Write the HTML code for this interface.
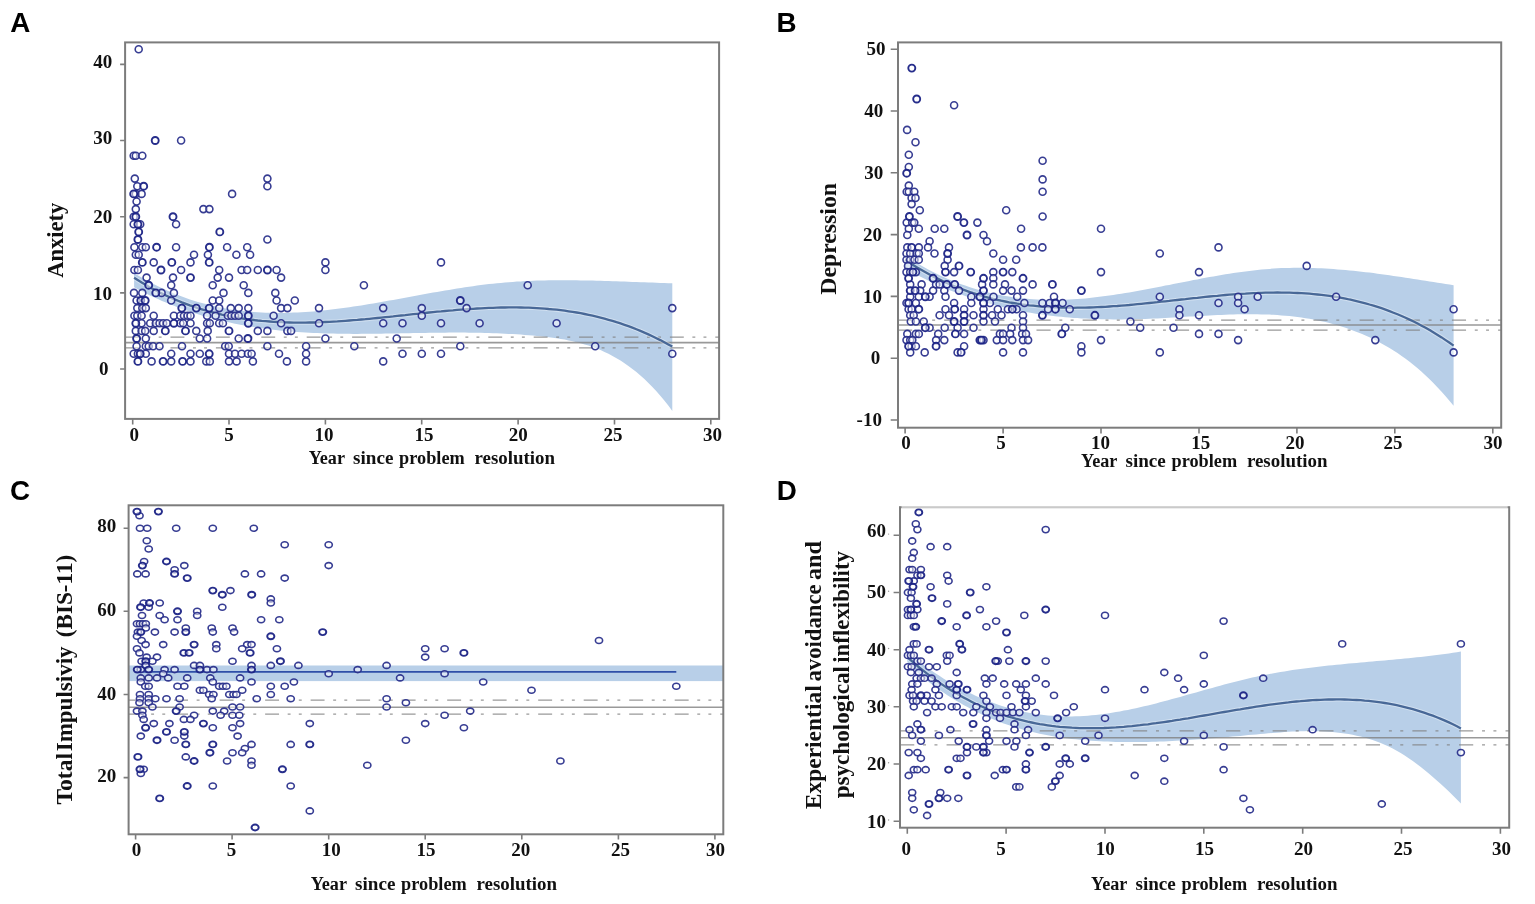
<!DOCTYPE html>
<html lang="en">
<head>
<meta charset="utf-8">
<title>Symptom scores by year since problem resolution</title>
<style>
html,body{margin:0;padding:0;background:#fff;}
body{width:1535px;height:904px;overflow:hidden;}
svg{display:block;}
</style>
</head>
<body>

<svg width="1535" height="904" viewBox="0 0 1535 904" role="img" aria-label="Four scatter plots of symptom scores against years since problem resolution">
<rect width="1535" height="904" fill="#ffffff"/>
<g id="panel-a">
<clipPath id="clipA"><rect x="125.1" y="42.4" width="594" height="376.5"/></clipPath>
<path d="M134.1 273L138.1 275.5L142.1 277.8L146.1 280.1L150 282.3L154 284.3L158 286.3L162 288.3L166 290.1L170 291.8L174 293.5L178 295.1L181.9 296.6L185.9 298L189.9 299.4L193.9 300.7L197.9 301.9L201.9 303L205.9 304.1L209.8 305.1L213.8 306L217.8 306.9L221.8 307.7L225.8 308.5L229.8 309.1L233.8 309.8L237.8 310.3L241.7 310.8L245.7 311.3L249.7 311.6L253.7 312L257.7 312.3L261.7 312.5L265.7 312.7L269.6 312.8L273.6 312.9L277.6 312.9L281.6 312.9L285.6 312.9L289.6 312.8L293.6 312.6L297.6 312.4L301.5 312.2L305.5 312L309.5 311.7L313.5 311.4L317.5 311L321.5 310.6L325.5 310.2L329.4 309.8L333.4 309.3L337.4 308.8L341.4 308.3L345.4 307.8L349.4 307.2L353.4 306.6L357.4 306L361.3 305.4L365.3 304.7L369.3 304.1L373.3 303.4L377.3 302.7L381.3 302L385.3 301.3L389.2 300.6L393.2 299.9L397.2 299.2L401.2 298.4L405.2 297.7L409.2 297L413.2 296.2L417.2 295.5L421.1 294.8L425.1 294.1L429.1 293.3L433.1 292.6L437.1 291.9L441.1 291.2L445.1 290.5L449 289.9L453 289.2L457 288.6L461 287.9L465 287.3L469 286.7L473 286.2L477 285.6L480.9 285.1L484.9 284.6L488.9 284.1L492.9 283.7L496.9 283.3L500.9 282.9L504.9 282.5L508.8 282.2L512.8 281.9L516.8 281.6L520.8 281.4L524.8 281.1L528.8 281L532.8 280.8L536.8 280.6L540.7 280.5L544.7 280.4L548.7 280.3L552.7 280.3L556.7 280.2L560.7 280.2L564.7 280.2L568.6 280.2L572.6 280.3L576.6 280.3L580.6 280.4L584.6 280.4L588.6 280.5L592.6 280.6L596.6 280.7L600.5 280.8L604.5 280.9L608.5 281L612.5 281.2L616.5 281.3L620.5 281.4L624.5 281.6L628.4 281.7L632.4 281.9L636.4 282L640.4 282.2L644.4 282.3L648.4 282.5L652.4 282.6L656.4 282.8L660.3 282.9L664.3 283L668.3 283.2L672.3 283.3L672.3 410.9L668.3 405.6L664.3 400.5L660.3 395.8L656.4 391.3L652.4 387L648.4 382.9L644.4 379.1L640.4 375.5L636.4 372.1L632.4 369L628.4 366L624.5 363.2L620.5 360.6L616.5 358.2L612.5 355.9L608.5 353.8L604.5 351.9L600.5 350.1L596.6 348.5L592.6 347L588.6 345.6L584.6 344.4L580.6 343.2L576.6 342.2L572.6 341.2L568.6 340.4L564.7 339.6L560.7 338.9L556.7 338.3L552.7 337.7L548.7 337.2L544.7 336.8L540.7 336.3L536.8 335.9L532.8 335.6L528.8 335.2L524.8 334.9L520.8 334.6L516.8 334.3L512.8 334.1L508.8 333.9L504.9 333.7L500.9 333.5L496.9 333.3L492.9 333.2L488.9 333L484.9 332.9L480.9 332.8L477 332.8L473 332.7L469 332.7L465 332.6L461 332.6L457 332.6L453 332.6L449 332.6L445.1 332.7L441.1 332.7L437.1 332.7L433.1 332.8L429.1 332.8L425.1 332.9L421.1 333L417.2 333L413.2 333.1L409.2 333.2L405.2 333.3L401.2 333.3L397.2 333.4L393.2 333.5L389.2 333.5L385.3 333.6L381.3 333.7L377.3 333.7L373.3 333.8L369.3 333.8L365.3 333.8L361.3 333.8L357.4 333.9L353.4 333.9L349.4 333.8L345.4 333.8L341.4 333.8L337.4 333.7L333.4 333.6L329.4 333.5L325.5 333.4L321.5 333.3L317.5 333.1L313.5 333L309.5 332.8L305.5 332.5L301.5 332.3L297.6 332L293.6 331.7L289.6 331.4L285.6 331.1L281.6 330.7L277.6 330.3L273.6 329.8L269.6 329.3L265.7 328.8L261.7 328.3L257.7 327.7L253.7 327.1L249.7 326.5L245.7 325.8L241.7 325L237.8 324.3L233.8 323.5L229.8 322.6L225.8 321.7L221.8 320.8L217.8 319.8L213.8 318.8L209.8 317.7L205.9 316.6L201.9 315.4L197.9 314.2L193.9 313L189.9 311.6L185.9 310.3L181.9 308.9L178 307.4L174 305.8L170 304.3L166 302.6L162 300.9L158 299.1L154 297.3L150 295.4L146.1 293.5L142.1 291.5L138.1 289.4L134.1 287.3Z" fill="#b8cfe8"/>
<g stroke="#808080" stroke-opacity="0.8" fill="none" clip-path="url(#clipA)">
<line x1="125.1" y1="342.6" x2="719.1" y2="342.6" stroke-width="1.6"/>
<line x1="125.1" y1="337.2" x2="719.1" y2="337.2" stroke-width="1.3" stroke-dasharray="13.90 8.60 2.90 8.20 2.90 8.90" stroke-dashoffset="0"/>
<line x1="125.1" y1="347.9" x2="719.1" y2="347.9" stroke-width="1.3" stroke-dasharray="13.90 8.60 2.90 8.20 2.90 8.90" stroke-dashoffset="0"/>
</g>
<path d="M134.1 277.8L138.1 280.3L142.1 282.8L146.1 285.1L150 287.4L154 289.5L158 291.6L162 293.6L166 295.5L170 297.4L174 299.1L178 300.8L181.9 302.4L185.9 303.9L189.9 305.4L193.9 306.7L197.9 308.1L201.9 309.3L205.9 310.5L209.8 311.6L213.8 312.7L217.8 313.6L221.8 314.6L225.8 315.4L229.8 316.3L233.8 317L237.8 317.7L241.7 318.4L245.7 319L249.7 319.5L253.7 320L257.7 320.5L261.7 320.9L265.7 321.2L269.6 321.5L273.6 321.8L277.6 322L281.6 322.2L285.6 322.4L289.6 322.5L293.6 322.6L297.6 322.6L301.5 322.6L305.5 322.6L309.5 322.5L313.5 322.5L317.5 322.3L321.5 322.2L325.5 322L329.4 321.8L333.4 321.6L337.4 321.4L341.4 321.1L345.4 320.8L349.4 320.5L353.4 320.2L357.4 319.9L361.3 319.5L365.3 319.2L369.3 318.8L373.3 318.4L377.3 318L381.3 317.6L385.3 317.2L389.2 316.8L393.2 316.4L397.2 315.9L401.2 315.5L405.2 315.1L409.2 314.6L413.2 314.2L417.2 313.8L421.1 313.4L425.1 313L429.1 312.5L433.1 312.1L437.1 311.7L441.1 311.4L445.1 311L449 310.6L453 310.3L457 309.9L461 309.6L465 309.3L469 309L473 308.8L477 308.5L480.9 308.3L484.9 308.1L488.9 307.9L492.9 307.8L496.9 307.6L500.9 307.5L504.9 307.5L508.8 307.4L512.8 307.4L516.8 307.4L520.8 307.5L524.8 307.6L528.8 307.7L532.8 307.9L536.8 308.1L540.7 308.3L544.7 308.6L548.7 309L552.7 309.3L556.7 309.7L560.7 310.2L564.7 310.7L568.6 311.3L572.6 311.9L576.6 312.5L580.6 313.2L584.6 314L588.6 314.8L592.6 315.7L596.6 316.6L600.5 317.6L604.5 318.7L608.5 319.8L612.5 320.9L616.5 322.2L620.5 323.4L624.5 324.8L628.4 326.2L632.4 327.7L636.4 329.3L640.4 330.9L644.4 332.6L648.4 334.4L652.4 336.2L656.4 338.2L660.3 340.1L664.3 342.2L668.3 344.4L672.3 346.6" fill="none" stroke="#ffffff" stroke-opacity="0.35" stroke-width="4.4"/>
<path d="M134.1 277.8L138.1 280.3L142.1 282.8L146.1 285.1L150 287.4L154 289.5L158 291.6L162 293.6L166 295.5L170 297.4L174 299.1L178 300.8L181.9 302.4L185.9 303.9L189.9 305.4L193.9 306.7L197.9 308.1L201.9 309.3L205.9 310.5L209.8 311.6L213.8 312.7L217.8 313.6L221.8 314.6L225.8 315.4L229.8 316.3L233.8 317L237.8 317.7L241.7 318.4L245.7 319L249.7 319.5L253.7 320L257.7 320.5L261.7 320.9L265.7 321.2L269.6 321.5L273.6 321.8L277.6 322L281.6 322.2L285.6 322.4L289.6 322.5L293.6 322.6L297.6 322.6L301.5 322.6L305.5 322.6L309.5 322.5L313.5 322.5L317.5 322.3L321.5 322.2L325.5 322L329.4 321.8L333.4 321.6L337.4 321.4L341.4 321.1L345.4 320.8L349.4 320.5L353.4 320.2L357.4 319.9L361.3 319.5L365.3 319.2L369.3 318.8L373.3 318.4L377.3 318L381.3 317.6L385.3 317.2L389.2 316.8L393.2 316.4L397.2 315.9L401.2 315.5L405.2 315.1L409.2 314.6L413.2 314.2L417.2 313.8L421.1 313.4L425.1 313L429.1 312.5L433.1 312.1L437.1 311.7L441.1 311.4L445.1 311L449 310.6L453 310.3L457 309.9L461 309.6L465 309.3L469 309L473 308.8L477 308.5L480.9 308.3L484.9 308.1L488.9 307.9L492.9 307.8L496.9 307.6L500.9 307.5L504.9 307.5L508.8 307.4L512.8 307.4L516.8 307.4L520.8 307.5L524.8 307.6L528.8 307.7L532.8 307.9L536.8 308.1L540.7 308.3L544.7 308.6L548.7 309L552.7 309.3L556.7 309.7L560.7 310.2L564.7 310.7L568.6 311.3L572.6 311.9L576.6 312.5L580.6 313.2L584.6 314L588.6 314.8L592.6 315.7L596.6 316.6L600.5 317.6L604.5 318.7L608.5 319.8L612.5 320.9L616.5 322.2L620.5 323.4L624.5 324.8L628.4 326.2L632.4 327.7L636.4 329.3L640.4 330.9L644.4 332.6L648.4 334.4L652.4 336.2L656.4 338.2L660.3 340.1L664.3 342.2L668.3 344.4L672.3 346.6" fill="none" stroke="#486897" stroke-width="2.3"/>
<g fill="#ffffff" fill-opacity="0.5" stroke="#262c8a" stroke-width="1.6" stroke-opacity="0.92">
<circle cx="138.7" cy="49.2" r="3.5"/><circle cx="181.1" cy="140.5" r="3.5"/><circle cx="133.7" cy="155.8" r="3.5"/><circle cx="135.8" cy="155.8" r="3.5"/><circle cx="142.3" cy="155.8" r="3.5"/><circle cx="134.8" cy="178.6" r="3.5"/><circle cx="267.4" cy="178.6" r="3.5"/><circle cx="137.3" cy="186.2" r="3.5"/><circle cx="267.4" cy="186.2" r="3.5"/><circle cx="135.8" cy="193.9" r="3.5"/><circle cx="141.6" cy="193.9" r="3.5"/><circle cx="232.1" cy="193.9" r="3.5"/><circle cx="136.6" cy="201.5" r="3.5"/><circle cx="135.8" cy="209.1" r="3.5"/><circle cx="203.4" cy="209.1" r="3.5"/><circle cx="209.4" cy="209.1" r="3.5"/><circle cx="133.7" cy="216.7" r="3.5"/><circle cx="133.7" cy="224.3" r="3.5"/><circle cx="140.2" cy="224.3" r="3.5"/><circle cx="176.1" cy="224.3" r="3.5"/><circle cx="267.4" cy="239.5" r="3.5"/><circle cx="134.4" cy="247.2" r="3.5"/><circle cx="142.3" cy="247.2" r="3.5"/><circle cx="145.8" cy="247.2" r="3.5"/><circle cx="176.1" cy="247.2" r="3.5"/><circle cx="227.1" cy="247.2" r="3.5"/><circle cx="247.2" cy="247.2" r="3.5"/><circle cx="135.8" cy="254.8" r="3.5"/><circle cx="138.7" cy="254.8" r="3.5"/><circle cx="194" cy="254.8" r="3.5"/><circle cx="207.9" cy="254.8" r="3.5"/><circle cx="236.4" cy="254.8" r="3.5"/><circle cx="250.1" cy="254.8" r="3.5"/><circle cx="153.7" cy="262.4" r="3.5"/><circle cx="190.5" cy="262.4" r="3.5"/><circle cx="325.4" cy="262.4" r="3.5"/><circle cx="441" cy="262.4" r="3.5"/><circle cx="134.4" cy="270" r="3.5"/><circle cx="137.9" cy="270" r="3.5"/><circle cx="181.1" cy="270" r="3.5"/><circle cx="219.2" cy="270" r="3.5"/><circle cx="241.6" cy="270" r="3.5"/><circle cx="247.2" cy="270" r="3.5"/><circle cx="257.8" cy="270" r="3.5"/><circle cx="276.6" cy="270" r="3.5"/><circle cx="325.4" cy="270" r="3.5"/><circle cx="146.6" cy="277.6" r="3.5"/><circle cx="173" cy="277.6" r="3.5"/><circle cx="217.7" cy="277.6" r="3.5"/><circle cx="229" cy="277.6" r="3.5"/><circle cx="281.1" cy="277.6" r="3.5"/><circle cx="171.2" cy="285.2" r="3.5"/><circle cx="212.7" cy="285.2" r="3.5"/><circle cx="243.7" cy="285.2" r="3.5"/><circle cx="363.9" cy="285.2" r="3.5"/><circle cx="527.7" cy="285.2" r="3.5"/><circle cx="134" cy="292.9" r="3.5"/><circle cx="142.3" cy="292.9" r="3.5"/><circle cx="161.6" cy="292.9" r="3.5"/><circle cx="173.9" cy="292.9" r="3.5"/><circle cx="223.5" cy="292.9" r="3.5"/><circle cx="248.3" cy="292.9" r="3.5"/><circle cx="275.3" cy="292.9" r="3.5"/><circle cx="136.6" cy="300.5" r="3.5"/><circle cx="171.2" cy="300.5" r="3.5"/><circle cx="212.7" cy="300.5" r="3.5"/><circle cx="219.2" cy="300.5" r="3.5"/><circle cx="276.6" cy="300.5" r="3.5"/><circle cx="294.8" cy="300.5" r="3.5"/><circle cx="137.3" cy="308.1" r="3.5"/><circle cx="142.3" cy="308.1" r="3.5"/><circle cx="145.8" cy="308.1" r="3.5"/><circle cx="219.2" cy="308.1" r="3.5"/><circle cx="230.8" cy="308.1" r="3.5"/><circle cx="238.7" cy="308.1" r="3.5"/><circle cx="248.3" cy="308.1" r="3.5"/><circle cx="281.1" cy="308.1" r="3.5"/><circle cx="287.4" cy="308.1" r="3.5"/><circle cx="319" cy="308.1" r="3.5"/><circle cx="383.2" cy="308.1" r="3.5"/><circle cx="421.8" cy="308.1" r="3.5"/><circle cx="466.6" cy="308.1" r="3.5"/><circle cx="672.3" cy="308.1" r="3.5"/><circle cx="134.4" cy="315.7" r="3.5"/><circle cx="137.3" cy="315.7" r="3.5"/><circle cx="141.6" cy="315.7" r="3.5"/><circle cx="153.7" cy="315.7" r="3.5"/><circle cx="173.9" cy="315.7" r="3.5"/><circle cx="180.3" cy="315.7" r="3.5"/><circle cx="184" cy="315.7" r="3.5"/><circle cx="187.6" cy="315.7" r="3.5"/><circle cx="190.5" cy="315.7" r="3.5"/><circle cx="207.1" cy="315.7" r="3.5"/><circle cx="215.6" cy="315.7" r="3.5"/><circle cx="227.9" cy="315.7" r="3.5"/><circle cx="231.4" cy="315.7" r="3.5"/><circle cx="235" cy="315.7" r="3.5"/><circle cx="238.7" cy="315.7" r="3.5"/><circle cx="273.6" cy="315.7" r="3.5"/><circle cx="421.8" cy="315.7" r="3.5"/><circle cx="141.6" cy="323.3" r="3.5"/><circle cx="150.2" cy="323.3" r="3.5"/><circle cx="155.8" cy="323.3" r="3.5"/><circle cx="159.5" cy="323.3" r="3.5"/><circle cx="163.1" cy="323.3" r="3.5"/><circle cx="166.8" cy="323.3" r="3.5"/><circle cx="180.3" cy="323.3" r="3.5"/><circle cx="183.2" cy="323.3" r="3.5"/><circle cx="190.5" cy="323.3" r="3.5"/><circle cx="207.1" cy="323.3" r="3.5"/><circle cx="209.8" cy="323.3" r="3.5"/><circle cx="219.2" cy="323.3" r="3.5"/><circle cx="222.9" cy="323.3" r="3.5"/><circle cx="281.1" cy="323.3" r="3.5"/><circle cx="319" cy="323.3" r="3.5"/><circle cx="383.2" cy="323.3" r="3.5"/><circle cx="402.5" cy="323.3" r="3.5"/><circle cx="441" cy="323.3" r="3.5"/><circle cx="479.6" cy="323.3" r="3.5"/><circle cx="556.6" cy="323.3" r="3.5"/><circle cx="135.8" cy="330.9" r="3.5"/><circle cx="141.6" cy="330.9" r="3.5"/><circle cx="145.2" cy="330.9" r="3.5"/><circle cx="153.7" cy="330.9" r="3.5"/><circle cx="196.3" cy="330.9" r="3.5"/><circle cx="207.7" cy="330.9" r="3.5"/><circle cx="257.8" cy="330.9" r="3.5"/><circle cx="267.4" cy="330.9" r="3.5"/><circle cx="287.4" cy="330.9" r="3.5"/><circle cx="291.1" cy="330.9" r="3.5"/><circle cx="145.8" cy="338.5" r="3.5"/><circle cx="199.8" cy="338.5" r="3.5"/><circle cx="207.1" cy="338.5" r="3.5"/><circle cx="238.7" cy="338.5" r="3.5"/><circle cx="325.4" cy="338.5" r="3.5"/><circle cx="396.7" cy="338.5" r="3.5"/><circle cx="136.6" cy="346.2" r="3.5"/><circle cx="145.8" cy="346.2" r="3.5"/><circle cx="148.7" cy="346.2" r="3.5"/><circle cx="153.1" cy="346.2" r="3.5"/><circle cx="159.5" cy="346.2" r="3.5"/><circle cx="182" cy="346.2" r="3.5"/><circle cx="225.2" cy="346.2" r="3.5"/><circle cx="228.7" cy="346.2" r="3.5"/><circle cx="267.4" cy="346.2" r="3.5"/><circle cx="306.1" cy="346.2" r="3.5"/><circle cx="354.3" cy="346.2" r="3.5"/><circle cx="460.3" cy="346.2" r="3.5"/><circle cx="595.2" cy="346.2" r="3.5"/><circle cx="133.7" cy="353.8" r="3.5"/><circle cx="137.9" cy="353.8" r="3.5"/><circle cx="145.8" cy="353.8" r="3.5"/><circle cx="171.2" cy="353.8" r="3.5"/><circle cx="190.5" cy="353.8" r="3.5"/><circle cx="199.8" cy="353.8" r="3.5"/><circle cx="229" cy="353.8" r="3.5"/><circle cx="235" cy="353.8" r="3.5"/><circle cx="241.6" cy="353.8" r="3.5"/><circle cx="247.9" cy="353.8" r="3.5"/><circle cx="251.6" cy="353.8" r="3.5"/><circle cx="279" cy="353.8" r="3.5"/><circle cx="306.1" cy="353.8" r="3.5"/><circle cx="402.5" cy="353.8" r="3.5"/><circle cx="421.8" cy="353.8" r="3.5"/><circle cx="441" cy="353.8" r="3.5"/><circle cx="672.3" cy="353.8" r="3.5"/><circle cx="151.6" cy="361.4" r="3.5"/><circle cx="171.2" cy="361.4" r="3.5"/><circle cx="190.5" cy="361.4" r="3.5"/><circle cx="206.3" cy="361.4" r="3.5"/><circle cx="209.8" cy="361.4" r="3.5"/><circle cx="229" cy="361.4" r="3.5"/><circle cx="236.6" cy="361.4" r="3.5"/><circle cx="252.9" cy="361.4" r="3.5"/><circle cx="286.9" cy="361.4" r="3.5"/><circle cx="306.1" cy="361.4" r="3.5"/><circle cx="383.2" cy="361.4" r="3.5"/>
</g>
<g fill="#ffffff" fill-opacity="0.5" stroke="#1a2285" stroke-width="1.9" stroke-opacity="0.95">
<circle cx="155.2" cy="140.5" r="3.5"/><circle cx="143.7" cy="186.2" r="3.5"/><circle cx="133.7" cy="193.9" r="3.5"/><circle cx="135.8" cy="216.7" r="3.5"/><circle cx="173" cy="216.7" r="3.5"/><circle cx="137.9" cy="224.3" r="3.5"/><circle cx="138.7" cy="231.9" r="3.5"/><circle cx="219.8" cy="231.9" r="3.5"/><circle cx="137.9" cy="239.5" r="3.5"/><circle cx="156.6" cy="247.2" r="3.5"/><circle cx="209.4" cy="247.2" r="3.5"/><circle cx="142.3" cy="262.4" r="3.5"/><circle cx="171.8" cy="262.4" r="3.5"/><circle cx="209.2" cy="262.4" r="3.5"/><circle cx="161" cy="270" r="3.5"/><circle cx="267.4" cy="270" r="3.5"/><circle cx="190.5" cy="277.6" r="3.5"/><circle cx="148.7" cy="285.2" r="3.5"/><circle cx="155.8" cy="292.9" r="3.5"/><circle cx="140.8" cy="300.5" r="3.5"/><circle cx="145.2" cy="300.5" r="3.5"/><circle cx="460.3" cy="300.5" r="3.5"/><circle cx="181.8" cy="308.1" r="3.5"/><circle cx="196.3" cy="308.1" r="3.5"/><circle cx="209.2" cy="308.1" r="3.5"/><circle cx="248.3" cy="315.7" r="3.5"/><circle cx="135.8" cy="323.3" r="3.5"/><circle cx="173.9" cy="323.3" r="3.5"/><circle cx="248.3" cy="323.3" r="3.5"/><circle cx="165.3" cy="330.9" r="3.5"/><circle cx="185.5" cy="330.9" r="3.5"/><circle cx="229" cy="330.9" r="3.5"/><circle cx="136.6" cy="338.5" r="3.5"/><circle cx="247.9" cy="338.5" r="3.5"/><circle cx="140.2" cy="353.8" r="3.5"/><circle cx="209.2" cy="353.8" r="3.5"/><circle cx="137.9" cy="361.4" r="3.5"/><circle cx="163.1" cy="361.4" r="3.5"/><circle cx="182.6" cy="361.4" r="3.5"/>
</g>
<rect x="125.1" y="42.4" width="594" height="376.5" fill="none" stroke="#7c7c7c" stroke-width="2"/>
<path d="M132.7 418.9v5.5M229 418.9v5.5M325.4 418.9v5.5M421.7 418.9v5.5M518.1 418.9v5.5M614.5 418.9v5.5M710.8 418.9v5.5M125.1 369h-5M125.1 292.9h-5M125.1 216.7h-5M125.1 140.5h-5M125.1 64.4h-5" stroke="#7c7c7c" stroke-width="1.6" fill="none"/>
<g font-family='"Liberation Serif", "DejaVu Serif", serif' font-weight="bold" font-size="19" fill="#111">
<g text-anchor="middle">
<text x="134.3" y="440.8">0</text>
<text x="229" y="440.8">5</text>
<text x="324" y="440.8">10</text>
<text x="423.9" y="440.8">15</text>
<text x="518.2" y="440.8">20</text>
<text x="613" y="440.8">25</text>
<text x="712.4" y="440.8">30</text>
</g><g text-anchor="end">
<text x="108.4" y="375.3">0</text>
<text x="112.1" y="299.9">10</text>
<text x="112.3" y="222.7">20</text>
<text x="112.3" y="144.1">30</text>
<text x="112.3" y="68">40</text>
</g></g>
<text y="463.7" font-family='"Liberation Serif", "DejaVu Serif", serif' font-weight="bold" font-size="19.4" fill="#111"><tspan x="308.7" textLength="36" lengthAdjust="spacingAndGlyphs">Year</tspan> <tspan x="353.1" textLength="40.3" lengthAdjust="spacingAndGlyphs">since</tspan> <tspan x="399.1" textLength="65.6" lengthAdjust="spacingAndGlyphs">problem</tspan> <tspan x="474.5" textLength="80.6" lengthAdjust="spacingAndGlyphs">resolution</tspan></text>
<text transform="translate(63.1 277.8) rotate(-90)" font-family='"Liberation Serif", "DejaVu Serif", serif' font-weight="bold" font-size="22.5" fill="#111"><tspan x="0" textLength="75.2" lengthAdjust="spacingAndGlyphs">Anxiety</tspan></text>
<text x="10.2" y="32.1" font-family='"Liberation Sans", "DejaVu Sans", sans-serif' font-weight="bold" font-size="27.8" fill="#000">A</text>
</g>
<g id="panel-b">
<clipPath id="clipB"><rect x="898" y="42.4" width="603.2" height="385.3"/></clipPath>
<path d="M905.1 255.5L909.1 258.1L913.1 260.6L917.1 263.1L921.1 265.4L925.1 267.7L929.1 269.9L933.1 271.9L937.1 273.9L941.1 275.9L945.1 277.7L949.1 279.4L953.1 281.1L957.1 282.7L961.2 284.2L965.2 285.6L969.2 287L973.2 288.3L977.2 289.5L981.2 290.6L985.2 291.7L989.2 292.7L993.2 293.6L997.2 294.5L1001.2 295.3L1005.2 296L1009.2 296.6L1013.2 297.2L1017.2 297.8L1021.2 298.2L1025.2 298.6L1029.2 299L1033.2 299.3L1037.2 299.5L1041.2 299.7L1045.2 299.8L1049.2 299.9L1053.2 299.9L1057.2 299.9L1061.2 299.8L1065.2 299.7L1069.2 299.5L1073.3 299.3L1077.3 299L1081.3 298.7L1085.3 298.4L1089.3 298L1093.3 297.6L1097.3 297.1L1101.3 296.6L1105.3 296.1L1109.3 295.5L1113.3 295L1117.3 294.3L1121.3 293.7L1125.3 293.1L1129.3 292.4L1133.3 291.7L1137.3 291L1141.3 290.3L1145.3 289.5L1149.3 288.8L1153.3 288L1157.3 287.2L1161.3 286.4L1165.3 285.6L1169.3 284.9L1173.3 284.1L1177.3 283.3L1181.4 282.5L1185.4 281.7L1189.4 280.9L1193.4 280.1L1197.4 279.4L1201.4 278.6L1205.4 277.8L1209.4 277.1L1213.4 276.4L1217.4 275.7L1221.4 275L1225.4 274.3L1229.4 273.7L1233.4 273.1L1237.4 272.5L1241.4 271.9L1245.4 271.4L1249.4 270.9L1253.4 270.4L1257.4 270L1261.4 269.6L1265.4 269.2L1269.4 268.9L1273.4 268.6L1277.4 268.3L1281.4 268.1L1285.4 268L1289.5 267.9L1293.5 267.8L1297.5 267.8L1301.5 267.8L1305.5 267.8L1309.5 267.9L1313.5 268L1317.5 268.2L1321.5 268.3L1325.5 268.5L1329.5 268.8L1333.5 269.1L1337.5 269.4L1341.5 269.7L1345.5 270L1349.5 270.4L1353.5 270.8L1357.5 271.2L1361.5 271.7L1365.5 272.2L1369.5 272.6L1373.5 273.1L1377.5 273.7L1381.5 274.2L1385.5 274.8L1389.5 275.3L1393.5 275.9L1397.5 276.5L1401.6 277.1L1405.6 277.7L1409.6 278.3L1413.6 278.9L1417.6 279.5L1421.6 280.2L1425.6 280.8L1429.6 281.4L1433.6 282.1L1437.6 282.7L1441.6 283.3L1445.6 283.9L1449.6 284.6L1453.6 285.2L1453.6 405.8L1449.6 400.9L1445.6 396.2L1441.6 391.7L1437.6 387.4L1433.6 383.2L1429.6 379.2L1425.6 375.4L1421.6 371.8L1417.6 368.3L1413.6 365L1409.6 361.8L1405.6 358.8L1401.6 355.9L1397.5 353.1L1393.5 350.5L1389.5 348L1385.5 345.7L1381.5 343.4L1377.5 341.3L1373.5 339.3L1369.5 337.3L1365.5 335.5L1361.5 333.8L1357.5 332.2L1353.5 330.7L1349.5 329.2L1345.5 327.8L1341.5 326.5L1337.5 325.3L1333.5 324.2L1329.5 323.1L1325.5 322.1L1321.5 321.2L1317.5 320.4L1313.5 319.6L1309.5 318.8L1305.5 318.2L1301.5 317.6L1297.5 317L1293.5 316.5L1289.5 316.1L1285.4 315.7L1281.4 315.4L1277.4 315.1L1273.4 314.8L1269.4 314.6L1265.4 314.5L1261.4 314.4L1257.4 314.3L1253.4 314.2L1249.4 314.2L1245.4 314.2L1241.4 314.3L1237.4 314.3L1233.4 314.4L1229.4 314.6L1225.4 314.7L1221.4 314.9L1217.4 315L1213.4 315.2L1209.4 315.4L1205.4 315.7L1201.4 315.9L1197.4 316.1L1193.4 316.4L1189.4 316.6L1185.4 316.8L1181.4 317.1L1177.3 317.3L1173.3 317.5L1169.3 317.8L1165.3 318L1161.3 318.2L1157.3 318.4L1153.3 318.6L1149.3 318.7L1145.3 318.9L1141.3 319L1137.3 319.1L1133.3 319.2L1129.3 319.3L1125.3 319.3L1121.3 319.4L1117.3 319.4L1113.3 319.4L1109.3 319.3L1105.3 319.3L1101.3 319.2L1097.3 319.1L1093.3 319L1089.3 318.8L1085.3 318.6L1081.3 318.4L1077.3 318.1L1073.3 317.9L1069.2 317.6L1065.2 317.2L1061.2 316.8L1057.2 316.4L1053.2 316L1049.2 315.5L1045.2 315L1041.2 314.5L1037.2 313.9L1033.2 313.2L1029.2 312.6L1025.2 311.9L1021.2 311.1L1017.2 310.3L1013.2 309.5L1009.2 308.7L1005.2 307.7L1001.2 306.8L997.2 305.8L993.2 304.7L989.2 303.6L985.2 302.5L981.2 301.3L977.2 300L973.2 298.8L969.2 297.4L965.2 296L961.2 294.6L957.1 293.1L953.1 291.5L949.1 289.9L945.1 288.2L941.1 286.5L937.1 284.7L933.1 282.9L929.1 281L925.1 279.1L921.1 277L917.1 275L913.1 272.8L909.1 270.6L905.1 268.4Z" fill="#b8cfe8"/>
<g stroke="#808080" stroke-opacity="0.8" fill="none" clip-path="url(#clipB)">
<line x1="898" y1="325" x2="1501.2" y2="325" stroke-width="1.6"/>
<line x1="898" y1="320.1" x2="1501.2" y2="320.1" stroke-width="1.3" stroke-dasharray="14.13 8.74 2.95 8.34 2.95 9.05" stroke-dashoffset="0"/>
<line x1="898" y1="330.1" x2="1501.2" y2="330.1" stroke-width="1.3" stroke-dasharray="14.13 8.74 2.95 8.34 2.95 9.05" stroke-dashoffset="0"/>
</g>
<path d="M905.1 259.8L909.1 262.4L913.1 264.9L917.1 267.4L921.1 269.8L925.1 272.1L929.1 274.3L933.1 276.4L937.1 278.4L941.1 280.3L945.1 282.2L949.1 284L953.1 285.7L957.1 287.3L961.2 288.9L965.2 290.4L969.2 291.8L973.2 293.2L977.2 294.4L981.2 295.6L985.2 296.8L989.2 297.8L993.2 298.9L997.2 299.8L1001.2 300.7L1005.2 301.5L1009.2 302.3L1013.2 303L1017.2 303.7L1021.2 304.3L1025.2 304.8L1029.2 305.3L1033.2 305.7L1037.2 306.1L1041.2 306.5L1045.2 306.8L1049.2 307.1L1053.2 307.3L1057.2 307.4L1061.2 307.6L1065.2 307.7L1069.2 307.7L1073.3 307.8L1077.3 307.7L1081.3 307.7L1085.3 307.6L1089.3 307.5L1093.3 307.4L1097.3 307.2L1101.3 307L1105.3 306.8L1109.3 306.5L1113.3 306.2L1117.3 306L1121.3 305.6L1125.3 305.3L1129.3 305L1133.3 304.6L1137.3 304.2L1141.3 303.8L1145.3 303.4L1149.3 303L1153.3 302.6L1157.3 302.2L1161.3 301.7L1165.3 301.3L1169.3 300.9L1173.3 300.4L1177.3 300L1181.4 299.5L1185.4 299.1L1189.4 298.6L1193.4 298.2L1197.4 297.8L1201.4 297.3L1205.4 296.9L1209.4 296.5L1213.4 296.1L1217.4 295.8L1221.4 295.4L1225.4 295L1229.4 294.7L1233.4 294.4L1237.4 294.1L1241.4 293.8L1245.4 293.6L1249.4 293.3L1253.4 293.1L1257.4 293L1261.4 292.8L1265.4 292.7L1269.4 292.6L1273.4 292.6L1277.4 292.5L1281.4 292.6L1285.4 292.6L1289.5 292.7L1293.5 292.8L1297.5 293L1301.5 293.2L1305.5 293.4L1309.5 293.7L1313.5 294.1L1317.5 294.5L1321.5 294.9L1325.5 295.4L1329.5 295.9L1333.5 296.5L1337.5 297.2L1341.5 297.9L1345.5 298.6L1349.5 299.5L1353.5 300.3L1357.5 301.3L1361.5 302.3L1365.5 303.3L1369.5 304.5L1373.5 305.6L1377.5 306.9L1381.5 308.2L1385.5 309.6L1389.5 311.1L1393.5 312.7L1397.5 314.3L1401.6 316L1405.6 317.8L1409.6 319.6L1413.6 321.5L1417.6 323.6L1421.6 325.7L1425.6 327.8L1429.6 330.1L1433.6 332.5L1437.6 334.9L1441.6 337.4L1445.6 340.1L1449.6 342.8L1453.6 345.6" fill="none" stroke="#ffffff" stroke-opacity="0.35" stroke-width="4.4"/>
<path d="M905.1 259.8L909.1 262.4L913.1 264.9L917.1 267.4L921.1 269.8L925.1 272.1L929.1 274.3L933.1 276.4L937.1 278.4L941.1 280.3L945.1 282.2L949.1 284L953.1 285.7L957.1 287.3L961.2 288.9L965.2 290.4L969.2 291.8L973.2 293.2L977.2 294.4L981.2 295.6L985.2 296.8L989.2 297.8L993.2 298.9L997.2 299.8L1001.2 300.7L1005.2 301.5L1009.2 302.3L1013.2 303L1017.2 303.7L1021.2 304.3L1025.2 304.8L1029.2 305.3L1033.2 305.7L1037.2 306.1L1041.2 306.5L1045.2 306.8L1049.2 307.1L1053.2 307.3L1057.2 307.4L1061.2 307.6L1065.2 307.7L1069.2 307.7L1073.3 307.8L1077.3 307.7L1081.3 307.7L1085.3 307.6L1089.3 307.5L1093.3 307.4L1097.3 307.2L1101.3 307L1105.3 306.8L1109.3 306.5L1113.3 306.2L1117.3 306L1121.3 305.6L1125.3 305.3L1129.3 305L1133.3 304.6L1137.3 304.2L1141.3 303.8L1145.3 303.4L1149.3 303L1153.3 302.6L1157.3 302.2L1161.3 301.7L1165.3 301.3L1169.3 300.9L1173.3 300.4L1177.3 300L1181.4 299.5L1185.4 299.1L1189.4 298.6L1193.4 298.2L1197.4 297.8L1201.4 297.3L1205.4 296.9L1209.4 296.5L1213.4 296.1L1217.4 295.8L1221.4 295.4L1225.4 295L1229.4 294.7L1233.4 294.4L1237.4 294.1L1241.4 293.8L1245.4 293.6L1249.4 293.3L1253.4 293.1L1257.4 293L1261.4 292.8L1265.4 292.7L1269.4 292.6L1273.4 292.6L1277.4 292.5L1281.4 292.6L1285.4 292.6L1289.5 292.7L1293.5 292.8L1297.5 293L1301.5 293.2L1305.5 293.4L1309.5 293.7L1313.5 294.1L1317.5 294.5L1321.5 294.9L1325.5 295.4L1329.5 295.9L1333.5 296.5L1337.5 297.2L1341.5 297.9L1345.5 298.6L1349.5 299.5L1353.5 300.3L1357.5 301.3L1361.5 302.3L1365.5 303.3L1369.5 304.5L1373.5 305.6L1377.5 306.9L1381.5 308.2L1385.5 309.6L1389.5 311.1L1393.5 312.7L1397.5 314.3L1401.6 316L1405.6 317.8L1409.6 319.6L1413.6 321.5L1417.6 323.6L1421.6 325.7L1425.6 327.8L1429.6 330.1L1433.6 332.5L1437.6 334.9L1441.6 337.4L1445.6 340.1L1449.6 342.8L1453.6 345.6" fill="none" stroke="#486897" stroke-width="2.3"/>
<g fill="#ffffff" fill-opacity="0.5" stroke="#262c8a" stroke-width="1.6" stroke-opacity="0.92">
<circle cx="954.1" cy="105.2" r="3.5"/><circle cx="907.1" cy="129.9" r="3.5"/><circle cx="915.5" cy="142.3" r="3.5"/><circle cx="908.8" cy="154.7" r="3.5"/><circle cx="1042.6" cy="160.8" r="3.5"/><circle cx="908.8" cy="167" r="3.5"/><circle cx="1042.6" cy="179.4" r="3.5"/><circle cx="908.8" cy="185.6" r="3.5"/><circle cx="906.7" cy="191.7" r="3.5"/><circle cx="908.8" cy="191.7" r="3.5"/><circle cx="914.3" cy="191.7" r="3.5"/><circle cx="1042.6" cy="191.7" r="3.5"/><circle cx="911.6" cy="197.9" r="3.5"/><circle cx="915.5" cy="197.9" r="3.5"/><circle cx="911.6" cy="204.1" r="3.5"/><circle cx="919.8" cy="210.3" r="3.5"/><circle cx="1006.2" cy="210.3" r="3.5"/><circle cx="1042.6" cy="216.5" r="3.5"/><circle cx="906.7" cy="222.6" r="3.5"/><circle cx="912.2" cy="222.6" r="3.5"/><circle cx="914.3" cy="222.6" r="3.5"/><circle cx="977.4" cy="222.6" r="3.5"/><circle cx="908.8" cy="228.8" r="3.5"/><circle cx="918.8" cy="228.8" r="3.5"/><circle cx="934.7" cy="228.8" r="3.5"/><circle cx="944.3" cy="228.8" r="3.5"/><circle cx="1021.1" cy="228.8" r="3.5"/><circle cx="1101" cy="228.8" r="3.5"/><circle cx="907.3" cy="235" r="3.5"/><circle cx="983.5" cy="235" r="3.5"/><circle cx="929.6" cy="241.2" r="3.5"/><circle cx="987" cy="241.2" r="3.5"/><circle cx="907.3" cy="247.4" r="3.5"/><circle cx="918.8" cy="247.4" r="3.5"/><circle cx="928" cy="247.4" r="3.5"/><circle cx="949" cy="247.4" r="3.5"/><circle cx="1020.9" cy="247.4" r="3.5"/><circle cx="1032.6" cy="247.4" r="3.5"/><circle cx="1042.4" cy="247.4" r="3.5"/><circle cx="1218.5" cy="247.4" r="3.5"/><circle cx="906.5" cy="253.5" r="3.5"/><circle cx="910.2" cy="253.5" r="3.5"/><circle cx="916.7" cy="253.5" r="3.5"/><circle cx="918.8" cy="253.5" r="3.5"/><circle cx="934.5" cy="253.5" r="3.5"/><circle cx="993.3" cy="253.5" r="3.5"/><circle cx="1159.8" cy="253.5" r="3.5"/><circle cx="906.5" cy="259.7" r="3.5"/><circle cx="910.2" cy="259.7" r="3.5"/><circle cx="914.5" cy="259.7" r="3.5"/><circle cx="918.8" cy="259.7" r="3.5"/><circle cx="947.6" cy="259.7" r="3.5"/><circle cx="1003.1" cy="259.7" r="3.5"/><circle cx="1016.2" cy="259.7" r="3.5"/><circle cx="908" cy="265.9" r="3.5"/><circle cx="944.7" cy="265.9" r="3.5"/><circle cx="1306.7" cy="265.9" r="3.5"/><circle cx="906.5" cy="272.1" r="3.5"/><circle cx="910.2" cy="272.1" r="3.5"/><circle cx="915.9" cy="272.1" r="3.5"/><circle cx="954.1" cy="272.1" r="3.5"/><circle cx="993.3" cy="272.1" r="3.5"/><circle cx="1012.3" cy="272.1" r="3.5"/><circle cx="1101" cy="272.1" r="3.5"/><circle cx="1199" cy="272.1" r="3.5"/><circle cx="993.3" cy="278.3" r="3.5"/><circle cx="910.2" cy="284.4" r="3.5"/><circle cx="921.6" cy="284.4" r="3.5"/><circle cx="936.1" cy="284.4" r="3.5"/><circle cx="939.6" cy="284.4" r="3.5"/><circle cx="982.1" cy="284.4" r="3.5"/><circle cx="993.3" cy="284.4" r="3.5"/><circle cx="1005" cy="284.4" r="3.5"/><circle cx="1032.6" cy="284.4" r="3.5"/><circle cx="920.2" cy="290.6" r="3.5"/><circle cx="933.1" cy="290.6" r="3.5"/><circle cx="944.3" cy="290.6" r="3.5"/><circle cx="959" cy="290.6" r="3.5"/><circle cx="1003.1" cy="290.6" r="3.5"/><circle cx="1011.5" cy="290.6" r="3.5"/><circle cx="1023" cy="290.6" r="3.5"/><circle cx="910.2" cy="296.8" r="3.5"/><circle cx="918.8" cy="296.8" r="3.5"/><circle cx="929.6" cy="296.8" r="3.5"/><circle cx="945.5" cy="296.8" r="3.5"/><circle cx="971.3" cy="296.8" r="3.5"/><circle cx="993.5" cy="296.8" r="3.5"/><circle cx="1017.2" cy="296.8" r="3.5"/><circle cx="1054" cy="296.8" r="3.5"/><circle cx="1159.8" cy="296.8" r="3.5"/><circle cx="1238.1" cy="296.8" r="3.5"/><circle cx="1257.7" cy="296.8" r="3.5"/><circle cx="1336.1" cy="296.8" r="3.5"/><circle cx="906.5" cy="303" r="3.5"/><circle cx="915.9" cy="303" r="3.5"/><circle cx="954.1" cy="303" r="3.5"/><circle cx="971.3" cy="303" r="3.5"/><circle cx="989.9" cy="303" r="3.5"/><circle cx="1024.4" cy="303" r="3.5"/><circle cx="1042.4" cy="303" r="3.5"/><circle cx="1049.7" cy="303" r="3.5"/><circle cx="1062.6" cy="303" r="3.5"/><circle cx="1218.5" cy="303" r="3.5"/><circle cx="1238.1" cy="303" r="3.5"/><circle cx="908.6" cy="309.2" r="3.5"/><circle cx="911.6" cy="309.2" r="3.5"/><circle cx="945.5" cy="309.2" r="3.5"/><circle cx="964.1" cy="309.2" r="3.5"/><circle cx="983.5" cy="309.2" r="3.5"/><circle cx="997.8" cy="309.2" r="3.5"/><circle cx="1007.9" cy="309.2" r="3.5"/><circle cx="1016.6" cy="309.2" r="3.5"/><circle cx="1048.1" cy="309.2" r="3.5"/><circle cx="1069.7" cy="309.2" r="3.5"/><circle cx="1179.4" cy="309.2" r="3.5"/><circle cx="1244.6" cy="309.2" r="3.5"/><circle cx="1453.6" cy="309.2" r="3.5"/><circle cx="910.2" cy="315.3" r="3.5"/><circle cx="913.7" cy="315.3" r="3.5"/><circle cx="939.6" cy="315.3" r="3.5"/><circle cx="949" cy="315.3" r="3.5"/><circle cx="973.5" cy="315.3" r="3.5"/><circle cx="992.1" cy="315.3" r="3.5"/><circle cx="1001.5" cy="315.3" r="3.5"/><circle cx="1023" cy="315.3" r="3.5"/><circle cx="1179.4" cy="315.3" r="3.5"/><circle cx="1199" cy="315.3" r="3.5"/><circle cx="910.8" cy="321.5" r="3.5"/><circle cx="915.9" cy="321.5" r="3.5"/><circle cx="923.7" cy="321.5" r="3.5"/><circle cx="983.5" cy="321.5" r="3.5"/><circle cx="995" cy="321.5" r="3.5"/><circle cx="1023" cy="321.5" r="3.5"/><circle cx="1130.4" cy="321.5" r="3.5"/><circle cx="929.6" cy="327.7" r="3.5"/><circle cx="944.7" cy="327.7" r="3.5"/><circle cx="957.6" cy="327.7" r="3.5"/><circle cx="973.5" cy="327.7" r="3.5"/><circle cx="1011.5" cy="327.7" r="3.5"/><circle cx="1023" cy="327.7" r="3.5"/><circle cx="1065.3" cy="327.7" r="3.5"/><circle cx="1140.2" cy="327.7" r="3.5"/><circle cx="1173.5" cy="327.7" r="3.5"/><circle cx="907.3" cy="333.9" r="3.5"/><circle cx="915.9" cy="333.9" r="3.5"/><circle cx="918.8" cy="333.9" r="3.5"/><circle cx="938.2" cy="333.9" r="3.5"/><circle cx="964.1" cy="333.9" r="3.5"/><circle cx="999.9" cy="333.9" r="3.5"/><circle cx="1003.1" cy="333.9" r="3.5"/><circle cx="1010.1" cy="333.9" r="3.5"/><circle cx="1022.2" cy="333.9" r="3.5"/><circle cx="1026" cy="333.9" r="3.5"/><circle cx="1199" cy="333.9" r="3.5"/><circle cx="1218.5" cy="333.9" r="3.5"/><circle cx="906.5" cy="340.1" r="3.5"/><circle cx="910.2" cy="340.1" r="3.5"/><circle cx="912.3" cy="340.1" r="3.5"/><circle cx="936.1" cy="340.1" r="3.5"/><circle cx="944.3" cy="340.1" r="3.5"/><circle cx="983.5" cy="340.1" r="3.5"/><circle cx="996.8" cy="340.1" r="3.5"/><circle cx="1003.1" cy="340.1" r="3.5"/><circle cx="1012.3" cy="340.1" r="3.5"/><circle cx="1023" cy="340.1" r="3.5"/><circle cx="1028.1" cy="340.1" r="3.5"/><circle cx="1101" cy="340.1" r="3.5"/><circle cx="1238.1" cy="340.1" r="3.5"/><circle cx="1375.3" cy="340.1" r="3.5"/><circle cx="911.6" cy="346.2" r="3.5"/><circle cx="915.9" cy="346.2" r="3.5"/><circle cx="964.1" cy="346.2" r="3.5"/><circle cx="1081.4" cy="346.2" r="3.5"/><circle cx="910.2" cy="352.4" r="3.5"/><circle cx="924.7" cy="352.4" r="3.5"/><circle cx="957.6" cy="352.4" r="3.5"/><circle cx="1003.1" cy="352.4" r="3.5"/><circle cx="1023" cy="352.4" r="3.5"/><circle cx="1081.4" cy="352.4" r="3.5"/><circle cx="1159.8" cy="352.4" r="3.5"/><circle cx="1453.6" cy="352.4" r="3.5"/>
</g>
<g fill="#ffffff" fill-opacity="0.5" stroke="#1a2285" stroke-width="1.9" stroke-opacity="0.95">
<circle cx="911.8" cy="68.1" r="3.5"/><circle cx="916.7" cy="99" r="3.5"/><circle cx="906.7" cy="173.2" r="3.5"/><circle cx="909.4" cy="216.5" r="3.5"/><circle cx="957.6" cy="216.5" r="3.5"/><circle cx="963.9" cy="222.6" r="3.5"/><circle cx="967" cy="235" r="3.5"/><circle cx="911.6" cy="247.4" r="3.5"/><circle cx="947.6" cy="253.5" r="3.5"/><circle cx="959" cy="265.9" r="3.5"/><circle cx="912.9" cy="272.1" r="3.5"/><circle cx="945.5" cy="272.1" r="3.5"/><circle cx="970.7" cy="272.1" r="3.5"/><circle cx="1003.1" cy="272.1" r="3.5"/><circle cx="908.6" cy="278.3" r="3.5"/><circle cx="933.1" cy="278.3" r="3.5"/><circle cx="983.5" cy="278.3" r="3.5"/><circle cx="1023" cy="278.3" r="3.5"/><circle cx="946.8" cy="284.4" r="3.5"/><circle cx="954.7" cy="284.4" r="3.5"/><circle cx="1052.4" cy="284.4" r="3.5"/><circle cx="910.2" cy="290.6" r="3.5"/><circle cx="915.1" cy="290.6" r="3.5"/><circle cx="983.5" cy="290.6" r="3.5"/><circle cx="1081.4" cy="290.6" r="3.5"/><circle cx="925.3" cy="296.8" r="3.5"/><circle cx="979.9" cy="296.8" r="3.5"/><circle cx="908.6" cy="303" r="3.5"/><circle cx="983.5" cy="303" r="3.5"/><circle cx="1055.4" cy="303" r="3.5"/><circle cx="918.8" cy="309.2" r="3.5"/><circle cx="954.7" cy="309.2" r="3.5"/><circle cx="1012.3" cy="309.2" r="3.5"/><circle cx="1055.4" cy="309.2" r="3.5"/><circle cx="964.1" cy="315.3" r="3.5"/><circle cx="983.5" cy="315.3" r="3.5"/><circle cx="1042.4" cy="315.3" r="3.5"/><circle cx="1094.9" cy="315.3" r="3.5"/><circle cx="954.1" cy="321.5" r="3.5"/><circle cx="964.1" cy="321.5" r="3.5"/><circle cx="925.3" cy="327.7" r="3.5"/><circle cx="955.4" cy="333.9" r="3.5"/><circle cx="1061.8" cy="333.9" r="3.5"/><circle cx="979.9" cy="340.1" r="3.5"/><circle cx="981.5" cy="340.1" r="3.5"/><circle cx="908.6" cy="346.2" r="3.5"/><circle cx="936.1" cy="346.2" r="3.5"/><circle cx="961.1" cy="352.4" r="3.5"/>
</g>
<rect x="898" y="42.4" width="603.2" height="385.3" fill="none" stroke="#7c7c7c" stroke-width="2"/>
<path d="M905.1 427.7v5.9M1003.1 427.7v5.9M1101 427.7v5.9M1199 427.7v5.9M1296.9 427.7v5.9M1394.8 427.7v5.9M1492.8 427.7v5.9M898 420h-7.3M898 358.2h-7.3M898 296.4h-7.3M898 234.6h-7.3M898 172.8h-7.3M898 111h-7.3M898 49.2h-7.3" stroke="#7c7c7c" stroke-width="1.6" fill="none"/>
<g font-family='"Liberation Serif", "DejaVu Serif", serif' font-weight="bold" font-size="19" fill="#111">
<g text-anchor="middle">
<text x="905.9" y="449">0</text>
<text x="1001.1" y="449">5</text>
<text x="1100.5" y="449">10</text>
<text x="1200.8" y="449">15</text>
<text x="1294.9" y="449">20</text>
<text x="1393" y="449">25</text>
<text x="1493" y="449">30</text>
</g><g text-anchor="end">
<text x="881.9" y="426">-10</text>
<text x="880.2" y="363.6">0</text>
<text x="881.9" y="302.5">10</text>
<text x="881.9" y="240.6">20</text>
<text x="883.2" y="178.7">30</text>
<text x="883.2" y="117">40</text>
<text x="885.4" y="55.1">50</text>
</g></g>
<text y="467.2" font-family='"Liberation Serif", "DejaVu Serif", serif' font-weight="bold" font-size="19.4" fill="#111"><tspan x="1081.1" textLength="36" lengthAdjust="spacingAndGlyphs">Year</tspan> <tspan x="1125.5" textLength="40.3" lengthAdjust="spacingAndGlyphs">since</tspan> <tspan x="1171.5" textLength="65.6" lengthAdjust="spacingAndGlyphs">problem</tspan> <tspan x="1246.9" textLength="80.6" lengthAdjust="spacingAndGlyphs">resolution</tspan></text>
<text transform="translate(836.4 294.7) rotate(-90)" font-family='"Liberation Serif", "DejaVu Serif", serif' font-weight="bold" font-size="23.0" fill="#111"><tspan x="0" textLength="111.7" lengthAdjust="spacingAndGlyphs">Depression</tspan></text>
<text x="776.6" y="32.1" font-family='"Liberation Sans", "DejaVu Sans", sans-serif' font-weight="bold" font-size="27.8" fill="#000">B</text>
</g>
<g id="panel-c">
<clipPath id="clipC"><rect x="128.6" y="505.3" width="594.7" height="329"/></clipPath>
<rect x="128.6" y="665.5" width="594.7" height="15.6" fill="#b8cfe8"/>
<g stroke="#808080" stroke-opacity="0.8" fill="none" clip-path="url(#clipC)">
<line x1="128.6" y1="707.3" x2="723.3" y2="707.3" stroke-width="1.6"/>
<line x1="128.6" y1="700.1" x2="723.3" y2="700.1" stroke-width="1.3" stroke-dasharray="13.93 8.62 2.91 8.22 2.91 8.92" stroke-dashoffset="0"/>
<line x1="128.6" y1="714.1" x2="723.3" y2="714.1" stroke-width="1.3" stroke-dasharray="13.93 8.62 2.91 8.22 2.91 8.92" stroke-dashoffset="0"/>
</g>
<line x1="135.6" y1="671.8" x2="676.3" y2="671.8" stroke="#2f4fa8" stroke-width="1.8"/>
<g fill="#ffffff" fill-opacity="0.5" stroke="#262c8a" stroke-width="1.6" stroke-opacity="0.92">
<ellipse cx="139.5" cy="515.7" rx="3.6" ry="3"/><ellipse cx="140" cy="528.2" rx="3.6" ry="3"/><ellipse cx="147.2" cy="528.2" rx="3.6" ry="3"/><ellipse cx="176.2" cy="528.2" rx="3.6" ry="3"/><ellipse cx="212.8" cy="528.2" rx="3.6" ry="3"/><ellipse cx="253.8" cy="528.2" rx="3.6" ry="3"/><ellipse cx="146.8" cy="540.7" rx="3.6" ry="3"/><ellipse cx="284.7" cy="544.8" rx="3.6" ry="3"/><ellipse cx="328.7" cy="544.8" rx="3.6" ry="3"/><ellipse cx="148.7" cy="549" rx="3.6" ry="3"/><ellipse cx="144.1" cy="561.5" rx="3.6" ry="3"/><ellipse cx="184.3" cy="565.6" rx="3.6" ry="3"/><ellipse cx="328.7" cy="565.6" rx="3.6" ry="3"/><ellipse cx="174.6" cy="569.8" rx="3.6" ry="3"/><ellipse cx="137.3" cy="573.9" rx="3.6" ry="3"/><ellipse cx="145.6" cy="573.9" rx="3.6" ry="3"/><ellipse cx="244.9" cy="573.9" rx="3.6" ry="3"/><ellipse cx="261.1" cy="573.9" rx="3.6" ry="3"/><ellipse cx="284.7" cy="578.1" rx="3.6" ry="3"/><ellipse cx="230.4" cy="590.6" rx="3.6" ry="3"/><ellipse cx="270.8" cy="598.9" rx="3.6" ry="3"/><ellipse cx="143.7" cy="603" rx="3.6" ry="3"/><ellipse cx="159.7" cy="603" rx="3.6" ry="3"/><ellipse cx="270.8" cy="603" rx="3.6" ry="3"/><ellipse cx="148.7" cy="607.2" rx="3.6" ry="3"/><ellipse cx="222.3" cy="607.2" rx="3.6" ry="3"/><ellipse cx="197.2" cy="611.3" rx="3.6" ry="3"/><ellipse cx="142" cy="615.5" rx="3.6" ry="3"/><ellipse cx="159.7" cy="615.5" rx="3.6" ry="3"/><ellipse cx="197.2" cy="615.5" rx="3.6" ry="3"/><ellipse cx="164.6" cy="619.7" rx="3.6" ry="3"/><ellipse cx="177.5" cy="619.7" rx="3.6" ry="3"/><ellipse cx="261.1" cy="619.7" rx="3.6" ry="3"/><ellipse cx="279.3" cy="619.7" rx="3.6" ry="3"/><ellipse cx="137" cy="623.8" rx="3.6" ry="3"/><ellipse cx="140" cy="623.8" rx="3.6" ry="3"/><ellipse cx="142.9" cy="623.8" rx="3.6" ry="3"/><ellipse cx="145.8" cy="623.8" rx="3.6" ry="3"/><ellipse cx="145.8" cy="628" rx="3.6" ry="3"/><ellipse cx="185.8" cy="628" rx="3.6" ry="3"/><ellipse cx="211.7" cy="628" rx="3.6" ry="3"/><ellipse cx="232.5" cy="628" rx="3.6" ry="3"/><ellipse cx="137.9" cy="632.1" rx="3.6" ry="3"/><ellipse cx="154.9" cy="632.1" rx="3.6" ry="3"/><ellipse cx="174.6" cy="632.1" rx="3.6" ry="3"/><ellipse cx="212.8" cy="632.1" rx="3.6" ry="3"/><ellipse cx="234.1" cy="632.1" rx="3.6" ry="3"/><ellipse cx="137" cy="636.3" rx="3.6" ry="3"/><ellipse cx="141.6" cy="640.5" rx="3.6" ry="3"/><ellipse cx="599" cy="640.5" rx="3.6" ry="3"/><ellipse cx="145.6" cy="644.6" rx="3.6" ry="3"/><ellipse cx="163.2" cy="644.6" rx="3.6" ry="3"/><ellipse cx="216.3" cy="644.6" rx="3.6" ry="3"/><ellipse cx="247.2" cy="644.6" rx="3.6" ry="3"/><ellipse cx="251.5" cy="644.6" rx="3.6" ry="3"/><ellipse cx="137" cy="648.8" rx="3.6" ry="3"/><ellipse cx="216.3" cy="648.8" rx="3.6" ry="3"/><ellipse cx="242.2" cy="648.8" rx="3.6" ry="3"/><ellipse cx="276.9" cy="648.8" rx="3.6" ry="3"/><ellipse cx="425.2" cy="648.8" rx="3.6" ry="3"/><ellipse cx="444.6" cy="648.8" rx="3.6" ry="3"/><ellipse cx="139.5" cy="652.9" rx="3.6" ry="3"/><ellipse cx="146.6" cy="657.1" rx="3.6" ry="3"/><ellipse cx="157" cy="657.1" rx="3.6" ry="3"/><ellipse cx="425.2" cy="657.1" rx="3.6" ry="3"/><ellipse cx="141.6" cy="661.2" rx="3.6" ry="3"/><ellipse cx="152.4" cy="661.2" rx="3.6" ry="3"/><ellipse cx="232.5" cy="661.2" rx="3.6" ry="3"/><ellipse cx="194.1" cy="665.4" rx="3.6" ry="3"/><ellipse cx="199.9" cy="665.4" rx="3.6" ry="3"/><ellipse cx="251.5" cy="665.4" rx="3.6" ry="3"/><ellipse cx="270.8" cy="665.4" rx="3.6" ry="3"/><ellipse cx="298.4" cy="665.4" rx="3.6" ry="3"/><ellipse cx="386.6" cy="665.4" rx="3.6" ry="3"/><ellipse cx="140.8" cy="669.6" rx="3.6" ry="3"/><ellipse cx="164.6" cy="669.6" rx="3.6" ry="3"/><ellipse cx="174.6" cy="669.6" rx="3.6" ry="3"/><ellipse cx="207" cy="669.6" rx="3.6" ry="3"/><ellipse cx="213.4" cy="669.6" rx="3.6" ry="3"/><ellipse cx="357.7" cy="669.6" rx="3.6" ry="3"/><ellipse cx="163.2" cy="673.7" rx="3.6" ry="3"/><ellipse cx="328.7" cy="673.7" rx="3.6" ry="3"/><ellipse cx="444.6" cy="673.7" rx="3.6" ry="3"/><ellipse cx="140.8" cy="677.9" rx="3.6" ry="3"/><ellipse cx="148.7" cy="677.9" rx="3.6" ry="3"/><ellipse cx="157" cy="677.9" rx="3.6" ry="3"/><ellipse cx="168.2" cy="677.9" rx="3.6" ry="3"/><ellipse cx="187.2" cy="677.9" rx="3.6" ry="3"/><ellipse cx="210.3" cy="677.9" rx="3.6" ry="3"/><ellipse cx="240.1" cy="677.9" rx="3.6" ry="3"/><ellipse cx="400.1" cy="677.9" rx="3.6" ry="3"/><ellipse cx="140.8" cy="682" rx="3.6" ry="3"/><ellipse cx="212.8" cy="682" rx="3.6" ry="3"/><ellipse cx="251.5" cy="682" rx="3.6" ry="3"/><ellipse cx="293.9" cy="682" rx="3.6" ry="3"/><ellipse cx="483.2" cy="682" rx="3.6" ry="3"/><ellipse cx="145.3" cy="686.2" rx="3.6" ry="3"/><ellipse cx="148.7" cy="686.2" rx="3.6" ry="3"/><ellipse cx="177.5" cy="686.2" rx="3.6" ry="3"/><ellipse cx="184.3" cy="686.2" rx="3.6" ry="3"/><ellipse cx="219.2" cy="686.2" rx="3.6" ry="3"/><ellipse cx="222.9" cy="686.2" rx="3.6" ry="3"/><ellipse cx="226.4" cy="686.2" rx="3.6" ry="3"/><ellipse cx="270.8" cy="686.2" rx="3.6" ry="3"/><ellipse cx="284.7" cy="686.2" rx="3.6" ry="3"/><ellipse cx="676.3" cy="686.2" rx="3.6" ry="3"/><ellipse cx="199.9" cy="690.3" rx="3.6" ry="3"/><ellipse cx="203.4" cy="690.3" rx="3.6" ry="3"/><ellipse cx="242.2" cy="690.3" rx="3.6" ry="3"/><ellipse cx="531.5" cy="690.3" rx="3.6" ry="3"/><ellipse cx="140" cy="694.5" rx="3.6" ry="3"/><ellipse cx="148.7" cy="694.5" rx="3.6" ry="3"/><ellipse cx="209.2" cy="694.5" rx="3.6" ry="3"/><ellipse cx="213.4" cy="694.5" rx="3.6" ry="3"/><ellipse cx="229.3" cy="694.5" rx="3.6" ry="3"/><ellipse cx="233.5" cy="694.5" rx="3.6" ry="3"/><ellipse cx="236.4" cy="694.5" rx="3.6" ry="3"/><ellipse cx="270.8" cy="694.5" rx="3.6" ry="3"/><ellipse cx="140" cy="698.7" rx="3.6" ry="3"/><ellipse cx="148.7" cy="698.7" rx="3.6" ry="3"/><ellipse cx="155.3" cy="698.7" rx="3.6" ry="3"/><ellipse cx="166.5" cy="698.7" rx="3.6" ry="3"/><ellipse cx="179.6" cy="698.7" rx="3.6" ry="3"/><ellipse cx="211.7" cy="698.7" rx="3.6" ry="3"/><ellipse cx="256.7" cy="698.7" rx="3.6" ry="3"/><ellipse cx="290.7" cy="698.7" rx="3.6" ry="3"/><ellipse cx="386.6" cy="698.7" rx="3.6" ry="3"/><ellipse cx="139.5" cy="702.8" rx="3.6" ry="3"/><ellipse cx="148.7" cy="702.8" rx="3.6" ry="3"/><ellipse cx="405.9" cy="702.8" rx="3.6" ry="3"/><ellipse cx="152.4" cy="707" rx="3.6" ry="3"/><ellipse cx="179.6" cy="707" rx="3.6" ry="3"/><ellipse cx="232.5" cy="707" rx="3.6" ry="3"/><ellipse cx="240.1" cy="707" rx="3.6" ry="3"/><ellipse cx="386.6" cy="707" rx="3.6" ry="3"/><ellipse cx="137" cy="711.1" rx="3.6" ry="3"/><ellipse cx="142.4" cy="711.1" rx="3.6" ry="3"/><ellipse cx="212.8" cy="711.1" rx="3.6" ry="3"/><ellipse cx="224.2" cy="711.1" rx="3.6" ry="3"/><ellipse cx="470.2" cy="711.1" rx="3.6" ry="3"/><ellipse cx="142.4" cy="715.3" rx="3.6" ry="3"/><ellipse cx="194.1" cy="715.3" rx="3.6" ry="3"/><ellipse cx="220.6" cy="715.3" rx="3.6" ry="3"/><ellipse cx="232.5" cy="715.3" rx="3.6" ry="3"/><ellipse cx="239.3" cy="715.3" rx="3.6" ry="3"/><ellipse cx="444.6" cy="715.3" rx="3.6" ry="3"/><ellipse cx="143.7" cy="719.4" rx="3.6" ry="3"/><ellipse cx="183.9" cy="719.4" rx="3.6" ry="3"/><ellipse cx="190.4" cy="719.4" rx="3.6" ry="3"/><ellipse cx="153.8" cy="723.6" rx="3.6" ry="3"/><ellipse cx="169.4" cy="723.6" rx="3.6" ry="3"/><ellipse cx="240.1" cy="723.6" rx="3.6" ry="3"/><ellipse cx="309.8" cy="723.6" rx="3.6" ry="3"/><ellipse cx="425.2" cy="723.6" rx="3.6" ry="3"/><ellipse cx="212.8" cy="727.8" rx="3.6" ry="3"/><ellipse cx="232.5" cy="727.8" rx="3.6" ry="3"/><ellipse cx="463.9" cy="727.8" rx="3.6" ry="3"/><ellipse cx="140.8" cy="736.1" rx="3.6" ry="3"/><ellipse cx="184.3" cy="736.1" rx="3.6" ry="3"/><ellipse cx="237.6" cy="736.1" rx="3.6" ry="3"/><ellipse cx="174.6" cy="740.2" rx="3.6" ry="3"/><ellipse cx="405.9" cy="740.2" rx="3.6" ry="3"/><ellipse cx="251.5" cy="744.4" rx="3.6" ry="3"/><ellipse cx="290.7" cy="744.4" rx="3.6" ry="3"/><ellipse cx="244.9" cy="748.5" rx="3.6" ry="3"/><ellipse cx="232.5" cy="752.7" rx="3.6" ry="3"/><ellipse cx="242.2" cy="752.7" rx="3.6" ry="3"/><ellipse cx="185.8" cy="756.9" rx="3.6" ry="3"/><ellipse cx="227.1" cy="761" rx="3.6" ry="3"/><ellipse cx="251.5" cy="761" rx="3.6" ry="3"/><ellipse cx="560.4" cy="761" rx="3.6" ry="3"/><ellipse cx="251.5" cy="765.2" rx="3.6" ry="3"/><ellipse cx="367.3" cy="765.2" rx="3.6" ry="3"/><ellipse cx="143.7" cy="769.3" rx="3.6" ry="3"/><ellipse cx="140.8" cy="773.5" rx="3.6" ry="3"/><ellipse cx="212.8" cy="786" rx="3.6" ry="3"/><ellipse cx="290.7" cy="786" rx="3.6" ry="3"/><ellipse cx="309.8" cy="810.9" rx="3.6" ry="3"/>
</g>
<g fill="#ffffff" fill-opacity="0.5" stroke="#1a2285" stroke-width="1.9" stroke-opacity="0.95">
<ellipse cx="137" cy="511.6" rx="3.6" ry="3"/><ellipse cx="158.4" cy="511.6" rx="3.6" ry="3"/><ellipse cx="166.5" cy="561.5" rx="3.6" ry="3"/><ellipse cx="142.4" cy="565.6" rx="3.6" ry="3"/><ellipse cx="174.6" cy="573.9" rx="3.6" ry="3"/><ellipse cx="187.2" cy="578.1" rx="3.6" ry="3"/><ellipse cx="212.8" cy="590.6" rx="3.6" ry="3"/><ellipse cx="222.3" cy="594.7" rx="3.6" ry="3"/><ellipse cx="251.7" cy="594.7" rx="3.6" ry="3"/><ellipse cx="149.5" cy="603" rx="3.6" ry="3"/><ellipse cx="140.6" cy="607.2" rx="3.6" ry="3"/><ellipse cx="177.5" cy="611.3" rx="3.6" ry="3"/><ellipse cx="140.8" cy="632.1" rx="3.6" ry="3"/><ellipse cx="185.8" cy="632.1" rx="3.6" ry="3"/><ellipse cx="322.7" cy="632.1" rx="3.6" ry="3"/><ellipse cx="270.8" cy="636.3" rx="3.6" ry="3"/><ellipse cx="194.1" cy="644.6" rx="3.6" ry="3"/><ellipse cx="183.9" cy="652.9" rx="3.6" ry="3"/><ellipse cx="189.1" cy="652.9" rx="3.6" ry="3"/><ellipse cx="250.1" cy="652.9" rx="3.6" ry="3"/><ellipse cx="463.9" cy="652.9" rx="3.6" ry="3"/><ellipse cx="145.8" cy="661.2" rx="3.6" ry="3"/><ellipse cx="280.4" cy="661.2" rx="3.6" ry="3"/><ellipse cx="145.8" cy="665.4" rx="3.6" ry="3"/><ellipse cx="137.3" cy="669.6" rx="3.6" ry="3"/><ellipse cx="148.7" cy="669.6" rx="3.6" ry="3"/><ellipse cx="199.9" cy="669.6" rx="3.6" ry="3"/><ellipse cx="251.5" cy="669.6" rx="3.6" ry="3"/><ellipse cx="176.2" cy="711.1" rx="3.6" ry="3"/><ellipse cx="203.4" cy="723.6" rx="3.6" ry="3"/><ellipse cx="145.6" cy="727.8" rx="3.6" ry="3"/><ellipse cx="166.5" cy="731.9" rx="3.6" ry="3"/><ellipse cx="184.3" cy="731.9" rx="3.6" ry="3"/><ellipse cx="157" cy="740.2" rx="3.6" ry="3"/><ellipse cx="185.8" cy="744.4" rx="3.6" ry="3"/><ellipse cx="212.8" cy="744.4" rx="3.6" ry="3"/><ellipse cx="309.8" cy="744.4" rx="3.6" ry="3"/><ellipse cx="209.9" cy="752.7" rx="3.6" ry="3"/><ellipse cx="137.9" cy="756.9" rx="3.6" ry="3"/><ellipse cx="194.1" cy="761" rx="3.6" ry="3"/><ellipse cx="140" cy="769.3" rx="3.6" ry="3"/><ellipse cx="282.4" cy="769.3" rx="3.6" ry="3"/><ellipse cx="187.2" cy="786" rx="3.6" ry="3"/><ellipse cx="159.7" cy="798.4" rx="3.6" ry="3"/><ellipse cx="255.1" cy="827.5" rx="3.6" ry="3"/>
</g>
<rect x="128.6" y="505.3" width="594.7" height="329" fill="none" stroke="#7c7c7c" stroke-width="2"/>
<path d="M135.6 834.3v5.3M232.1 834.3v5.3M328.7 834.3v5.3M425.2 834.3v5.3M521.8 834.3v5.3M618.4 834.3v5.3M714.9 834.3v5.3M128.6 777.6h-5M128.6 694.5h-5M128.6 611.3h-5M128.6 528.2h-5" stroke="#7c7c7c" stroke-width="1.6" fill="none"/>
<g font-family='"Liberation Serif", "DejaVu Serif", serif' font-weight="bold" font-size="19" fill="#111">
<g text-anchor="middle">
<text x="136.5" y="855.6">0</text>
<text x="231.6" y="855.6">5</text>
<text x="331.2" y="855.6">10</text>
<text x="425.9" y="855.6">15</text>
<text x="520.8" y="855.6">20</text>
<text x="620.6" y="855.6">25</text>
<text x="715.5" y="855.6">30</text>
</g><g text-anchor="end">
<text x="116.3" y="781.6">20</text>
<text x="116.3" y="699.8">40</text>
<text x="116.3" y="615.7">60</text>
<text x="116.3" y="532.2">80</text>
</g></g>
<text y="890.3" font-family='"Liberation Serif", "DejaVu Serif", serif' font-weight="bold" font-size="19.4" fill="#111"><tspan x="310.7" textLength="36" lengthAdjust="spacingAndGlyphs">Year</tspan> <tspan x="355.1" textLength="40.3" lengthAdjust="spacingAndGlyphs">since</tspan> <tspan x="401.1" textLength="65.6" lengthAdjust="spacingAndGlyphs">problem</tspan> <tspan x="476.5" textLength="80.6" lengthAdjust="spacingAndGlyphs">resolution</tspan></text>
<text transform="translate(72.1 804.5) rotate(-90)" font-family='"Liberation Serif", "DejaVu Serif", serif' font-weight="bold" font-size="23" fill="#111"><tspan x="0" textLength="51.5" lengthAdjust="spacingAndGlyphs">Total</tspan> <tspan x="53.2" textLength="104.9" lengthAdjust="spacingAndGlyphs">Impulsiviy</tspan> <tspan x="167.3" textLength="82.4" lengthAdjust="spacingAndGlyphs">(BIS-11)</tspan></text>
<text x="10" y="499.9" font-family='"Liberation Sans", "DejaVu Sans", sans-serif' font-weight="bold" font-size="27.8" fill="#000">C</text>
</g>
<g id="panel-d">
<clipPath id="clipD"><rect x="900" y="507.2" width="609.2" height="320.5"/></clipPath>
<path d="M907.3 652.2L911.3 655.5L915.3 658.7L919.3 661.8L923.3 664.8L927.4 667.7L931.4 670.5L935.4 673.2L939.4 675.8L943.4 678.4L947.4 680.9L951.4 683.2L955.4 685.5L959.5 687.7L963.5 689.9L967.5 691.9L971.5 693.8L975.5 695.7L979.5 697.5L983.5 699.2L987.5 700.8L991.5 702.3L995.6 703.8L999.6 705.2L1003.6 706.5L1007.6 707.7L1011.6 708.8L1015.6 709.8L1019.6 710.8L1023.6 711.7L1027.6 712.5L1031.7 713.3L1035.7 713.9L1039.7 714.5L1043.7 715L1047.7 715.4L1051.7 715.8L1055.7 716.1L1059.7 716.3L1063.8 716.4L1067.8 716.4L1071.8 716.4L1075.8 716.3L1079.8 716.2L1083.8 716L1087.8 715.7L1091.8 715.3L1095.8 714.9L1099.9 714.5L1103.9 714L1107.9 713.4L1111.9 712.8L1115.9 712.1L1119.9 711.4L1123.9 710.6L1127.9 709.9L1131.9 709L1136 708.2L1140 707.3L1144 706.3L1148 705.4L1152 704.4L1156 703.4L1160 702.3L1164 701.3L1168.1 700.2L1172.1 699.1L1176.1 698L1180.1 696.9L1184.1 695.8L1188.1 694.6L1192.1 693.5L1196.1 692.4L1200.1 691.2L1204.2 690.1L1208.2 689L1212.2 687.9L1216.2 686.8L1220.2 685.7L1224.2 684.6L1228.2 683.5L1232.2 682.5L1236.3 681.4L1240.3 680.4L1244.3 679.4L1248.3 678.5L1252.3 677.6L1256.3 676.7L1260.3 675.8L1264.3 675L1268.3 674.2L1272.4 673.5L1276.4 672.7L1280.4 672L1284.4 671.4L1288.4 670.7L1292.4 670.1L1296.4 669.5L1300.4 669L1304.4 668.4L1308.5 667.9L1312.5 667.4L1316.5 666.9L1320.5 666.5L1324.5 666L1328.5 665.6L1332.5 665.2L1336.5 664.8L1340.6 664.4L1344.6 664L1348.6 663.6L1352.6 663.2L1356.6 662.9L1360.6 662.5L1364.6 662.2L1368.6 661.8L1372.6 661.5L1376.7 661.1L1380.7 660.8L1384.7 660.4L1388.7 660L1392.7 659.7L1396.7 659.3L1400.7 658.9L1404.7 658.6L1408.7 658.2L1412.8 657.8L1416.8 657.3L1420.8 656.9L1424.8 656.5L1428.8 656L1432.8 655.5L1436.8 655L1440.8 654.5L1444.9 654L1448.9 653.4L1452.9 652.8L1456.9 652.2L1460.9 651.6L1460.9 803.6L1456.9 799.5L1452.9 795.5L1448.9 791.6L1444.9 787.8L1440.8 784.1L1436.8 780.5L1432.8 776.9L1428.8 773.5L1424.8 770.2L1420.8 767L1416.8 764L1412.8 761L1408.7 758.2L1404.7 755.6L1400.7 753.1L1396.7 750.8L1392.7 748.6L1388.7 746.6L1384.7 744.8L1380.7 743.1L1376.7 741.5L1372.6 740.1L1368.6 738.8L1364.6 737.6L1360.6 736.6L1356.6 735.7L1352.6 734.8L1348.6 734.1L1344.6 733.4L1340.6 732.9L1336.5 732.4L1332.5 732L1328.5 731.7L1324.5 731.5L1320.5 731.3L1316.5 731.2L1312.5 731.1L1308.5 731.1L1304.4 731.2L1300.4 731.3L1296.4 731.4L1292.4 731.6L1288.4 731.8L1284.4 732.1L1280.4 732.4L1276.4 732.7L1272.4 733L1268.3 733.3L1264.3 733.7L1260.3 734L1256.3 734.4L1252.3 734.8L1248.3 735.1L1244.3 735.5L1240.3 735.9L1236.3 736.2L1232.2 736.6L1228.2 736.9L1224.2 737.3L1220.2 737.6L1216.2 737.9L1212.2 738.3L1208.2 738.6L1204.2 738.9L1200.1 739.2L1196.1 739.5L1192.1 739.8L1188.1 740L1184.1 740.3L1180.1 740.5L1176.1 740.8L1172.1 741L1168.1 741.2L1164 741.4L1160 741.5L1156 741.7L1152 741.8L1148 741.9L1144 742L1140 742L1136 742.1L1131.9 742.1L1127.9 742.1L1123.9 742L1119.9 742L1115.9 741.9L1111.9 741.8L1107.9 741.6L1103.9 741.4L1099.9 741.2L1095.8 741L1091.8 740.7L1087.8 740.4L1083.8 740.1L1079.8 739.7L1075.8 739.3L1071.8 738.9L1067.8 738.4L1063.8 737.9L1059.7 737.3L1055.7 736.7L1051.7 736L1047.7 735.3L1043.7 734.5L1039.7 733.7L1035.7 732.8L1031.7 731.8L1027.6 730.8L1023.6 729.8L1019.6 728.6L1015.6 727.4L1011.6 726.1L1007.6 724.8L1003.6 723.4L999.6 721.9L995.6 720.3L991.5 718.7L987.5 717L983.5 715.2L979.5 713.3L975.5 711.3L971.5 709.2L967.5 707.1L963.5 704.9L959.5 702.6L955.4 700.2L951.4 697.8L947.4 695.2L943.4 692.6L939.4 689.9L935.4 687L931.4 684.1L927.4 680.9L923.3 677.6L919.3 674.1L915.3 670.4L911.3 666.4L907.3 662.2Z" fill="#b8cfe8"/>
<g stroke="#808080" stroke-opacity="0.8" fill="none" clip-path="url(#clipD)">
<line x1="900" y1="737.7" x2="1509.2" y2="737.7" stroke-width="1.6"/>
<line x1="900" y1="730.8" x2="1509.2" y2="730.8" stroke-width="1.3" stroke-dasharray="14.26 8.82 2.98 8.41 2.98 9.13" stroke-dashoffset="0"/>
<line x1="900" y1="744.9" x2="1509.2" y2="744.9" stroke-width="1.3" stroke-dasharray="14.26 8.82 2.98 8.41 2.98 9.13" stroke-dashoffset="0"/>
</g>
<path d="M907.3 657.1L911.3 660.7L915.3 664.1L919.3 667.5L923.3 670.7L927.4 673.9L931.4 676.9L935.4 679.8L939.4 682.7L943.4 685.4L947.4 688L951.4 690.5L955.4 692.9L959.5 695.3L963.5 697.5L967.5 699.6L971.5 701.7L975.5 703.7L979.5 705.5L983.5 707.3L987.5 709L991.5 710.6L995.6 712.2L999.6 713.6L1003.6 715L1007.6 716.3L1011.6 717.5L1015.6 718.7L1019.6 719.7L1023.6 720.7L1027.6 721.7L1031.7 722.5L1035.7 723.3L1039.7 724.1L1043.7 724.7L1047.7 725.3L1051.7 725.9L1055.7 726.4L1059.7 726.8L1063.8 727.1L1067.8 727.4L1071.8 727.7L1075.8 727.9L1079.8 728.1L1083.8 728.2L1087.8 728.2L1091.8 728.2L1095.8 728.2L1099.9 728.1L1103.9 728L1107.9 727.8L1111.9 727.6L1115.9 727.4L1119.9 727.1L1123.9 726.8L1127.9 726.4L1131.9 726.1L1136 725.6L1140 725.2L1144 724.7L1148 724.3L1152 723.7L1156 723.2L1160 722.6L1164 722.1L1168.1 721.5L1172.1 720.9L1176.1 720.2L1180.1 719.6L1184.1 718.9L1188.1 718.3L1192.1 717.6L1196.1 716.9L1200.1 716.2L1204.2 715.5L1208.2 714.8L1212.2 714.1L1216.2 713.4L1220.2 712.7L1224.2 712L1228.2 711.3L1232.2 710.6L1236.3 709.9L1240.3 709.3L1244.3 708.6L1248.3 708L1252.3 707.3L1256.3 706.7L1260.3 706.1L1264.3 705.5L1268.3 704.9L1272.4 704.3L1276.4 703.8L1280.4 703.3L1284.4 702.8L1288.4 702.4L1292.4 701.9L1296.4 701.5L1300.4 701.2L1304.4 700.8L1308.5 700.5L1312.5 700.2L1316.5 700L1320.5 699.8L1324.5 699.6L1328.5 699.5L1332.5 699.5L1336.5 699.4L1340.6 699.4L1344.6 699.5L1348.6 699.6L1352.6 699.8L1356.6 700L1360.6 700.2L1364.6 700.6L1368.6 700.9L1372.6 701.4L1376.7 701.9L1380.7 702.4L1384.7 703L1388.7 703.7L1392.7 704.4L1396.7 705.2L1400.7 706.1L1404.7 707.1L1408.7 708.1L1412.8 709.2L1416.8 710.3L1420.8 711.6L1424.8 712.9L1428.8 714.3L1432.8 715.7L1436.8 717.3L1440.8 718.9L1444.9 720.6L1448.9 722.4L1452.9 724.3L1456.9 726.3L1460.9 728.4" fill="none" stroke="#ffffff" stroke-opacity="0.35" stroke-width="4.4"/>
<path d="M907.3 657.1L911.3 660.7L915.3 664.1L919.3 667.5L923.3 670.7L927.4 673.9L931.4 676.9L935.4 679.8L939.4 682.7L943.4 685.4L947.4 688L951.4 690.5L955.4 692.9L959.5 695.3L963.5 697.5L967.5 699.6L971.5 701.7L975.5 703.7L979.5 705.5L983.5 707.3L987.5 709L991.5 710.6L995.6 712.2L999.6 713.6L1003.6 715L1007.6 716.3L1011.6 717.5L1015.6 718.7L1019.6 719.7L1023.6 720.7L1027.6 721.7L1031.7 722.5L1035.7 723.3L1039.7 724.1L1043.7 724.7L1047.7 725.3L1051.7 725.9L1055.7 726.4L1059.7 726.8L1063.8 727.1L1067.8 727.4L1071.8 727.7L1075.8 727.9L1079.8 728.1L1083.8 728.2L1087.8 728.2L1091.8 728.2L1095.8 728.2L1099.9 728.1L1103.9 728L1107.9 727.8L1111.9 727.6L1115.9 727.4L1119.9 727.1L1123.9 726.8L1127.9 726.4L1131.9 726.1L1136 725.6L1140 725.2L1144 724.7L1148 724.3L1152 723.7L1156 723.2L1160 722.6L1164 722.1L1168.1 721.5L1172.1 720.9L1176.1 720.2L1180.1 719.6L1184.1 718.9L1188.1 718.3L1192.1 717.6L1196.1 716.9L1200.1 716.2L1204.2 715.5L1208.2 714.8L1212.2 714.1L1216.2 713.4L1220.2 712.7L1224.2 712L1228.2 711.3L1232.2 710.6L1236.3 709.9L1240.3 709.3L1244.3 708.6L1248.3 708L1252.3 707.3L1256.3 706.7L1260.3 706.1L1264.3 705.5L1268.3 704.9L1272.4 704.3L1276.4 703.8L1280.4 703.3L1284.4 702.8L1288.4 702.4L1292.4 701.9L1296.4 701.5L1300.4 701.2L1304.4 700.8L1308.5 700.5L1312.5 700.2L1316.5 700L1320.5 699.8L1324.5 699.6L1328.5 699.5L1332.5 699.5L1336.5 699.4L1340.6 699.4L1344.6 699.5L1348.6 699.6L1352.6 699.8L1356.6 700L1360.6 700.2L1364.6 700.6L1368.6 700.9L1372.6 701.4L1376.7 701.9L1380.7 702.4L1384.7 703L1388.7 703.7L1392.7 704.4L1396.7 705.2L1400.7 706.1L1404.7 707.1L1408.7 708.1L1412.8 709.2L1416.8 710.3L1420.8 711.6L1424.8 712.9L1428.8 714.3L1432.8 715.7L1436.8 717.3L1440.8 718.9L1444.9 720.6L1448.9 722.4L1452.9 724.3L1456.9 726.3L1460.9 728.4" fill="none" stroke="#486897" stroke-width="2.3"/>
<g fill="#ffffff" fill-opacity="0.5" stroke="#262c8a" stroke-width="1.6" stroke-opacity="0.92">
<ellipse cx="915.8" cy="523.9" rx="3.5" ry="3.1"/><ellipse cx="917.4" cy="529.6" rx="3.5" ry="3.1"/><ellipse cx="1045.7" cy="529.6" rx="3.5" ry="3.1"/><ellipse cx="912.2" cy="541" rx="3.5" ry="3.1"/><ellipse cx="930.6" cy="546.7" rx="3.5" ry="3.1"/><ellipse cx="947.2" cy="546.7" rx="3.5" ry="3.1"/><ellipse cx="913.8" cy="552.5" rx="3.5" ry="3.1"/><ellipse cx="912.2" cy="558.2" rx="3.5" ry="3.1"/><ellipse cx="909.5" cy="569.6" rx="3.5" ry="3.1"/><ellipse cx="912.2" cy="569.6" rx="3.5" ry="3.1"/><ellipse cx="920.9" cy="569.6" rx="3.5" ry="3.1"/><ellipse cx="917.4" cy="575.3" rx="3.5" ry="3.1"/><ellipse cx="947.2" cy="575.3" rx="3.5" ry="3.1"/><ellipse cx="913.8" cy="581" rx="3.5" ry="3.1"/><ellipse cx="948.6" cy="581" rx="3.5" ry="3.1"/><ellipse cx="930.6" cy="586.8" rx="3.5" ry="3.1"/><ellipse cx="986.4" cy="586.8" rx="3.5" ry="3.1"/><ellipse cx="907.9" cy="592.5" rx="3.5" ry="3.1"/><ellipse cx="911.6" cy="592.5" rx="3.5" ry="3.1"/><ellipse cx="910.9" cy="598.2" rx="3.5" ry="3.1"/><ellipse cx="947.2" cy="603.9" rx="3.5" ry="3.1"/><ellipse cx="907.9" cy="609.6" rx="3.5" ry="3.1"/><ellipse cx="917.4" cy="609.6" rx="3.5" ry="3.1"/><ellipse cx="979.9" cy="609.6" rx="3.5" ry="3.1"/><ellipse cx="907.9" cy="615.4" rx="3.5" ry="3.1"/><ellipse cx="910.9" cy="615.4" rx="3.5" ry="3.1"/><ellipse cx="913.8" cy="615.4" rx="3.5" ry="3.1"/><ellipse cx="1024.3" cy="615.4" rx="3.5" ry="3.1"/><ellipse cx="1105" cy="615.4" rx="3.5" ry="3.1"/><ellipse cx="996.1" cy="621.1" rx="3.5" ry="3.1"/><ellipse cx="1223.6" cy="621.1" rx="3.5" ry="3.1"/><ellipse cx="913.8" cy="626.8" rx="3.5" ry="3.1"/><ellipse cx="956.7" cy="626.8" rx="3.5" ry="3.1"/><ellipse cx="986.4" cy="626.8" rx="3.5" ry="3.1"/><ellipse cx="913.8" cy="643.9" rx="3.5" ry="3.1"/><ellipse cx="916.6" cy="643.9" rx="3.5" ry="3.1"/><ellipse cx="1342.2" cy="643.9" rx="3.5" ry="3.1"/><ellipse cx="1460.9" cy="643.9" rx="3.5" ry="3.1"/><ellipse cx="909.5" cy="649.7" rx="3.5" ry="3.1"/><ellipse cx="1007.9" cy="649.7" rx="3.5" ry="3.1"/><ellipse cx="907.9" cy="655.4" rx="3.5" ry="3.1"/><ellipse cx="910.9" cy="655.4" rx="3.5" ry="3.1"/><ellipse cx="913.8" cy="655.4" rx="3.5" ry="3.1"/><ellipse cx="946.8" cy="655.4" rx="3.5" ry="3.1"/><ellipse cx="949.6" cy="655.4" rx="3.5" ry="3.1"/><ellipse cx="1203.8" cy="655.4" rx="3.5" ry="3.1"/><ellipse cx="917.4" cy="661.1" rx="3.5" ry="3.1"/><ellipse cx="920.9" cy="661.1" rx="3.5" ry="3.1"/><ellipse cx="947.2" cy="661.1" rx="3.5" ry="3.1"/><ellipse cx="997.8" cy="661.1" rx="3.5" ry="3.1"/><ellipse cx="1009.3" cy="661.1" rx="3.5" ry="3.1"/><ellipse cx="1045.7" cy="661.1" rx="3.5" ry="3.1"/><ellipse cx="907.9" cy="666.8" rx="3.5" ry="3.1"/><ellipse cx="911.6" cy="666.8" rx="3.5" ry="3.1"/><ellipse cx="929" cy="666.8" rx="3.5" ry="3.1"/><ellipse cx="936.8" cy="666.8" rx="3.5" ry="3.1"/><ellipse cx="910.9" cy="672.5" rx="3.5" ry="3.1"/><ellipse cx="918.8" cy="672.5" rx="3.5" ry="3.1"/><ellipse cx="956.7" cy="672.5" rx="3.5" ry="3.1"/><ellipse cx="1164.3" cy="672.5" rx="3.5" ry="3.1"/><ellipse cx="916.6" cy="678.2" rx="3.5" ry="3.1"/><ellipse cx="920.9" cy="678.2" rx="3.5" ry="3.1"/><ellipse cx="924.5" cy="678.2" rx="3.5" ry="3.1"/><ellipse cx="931.6" cy="678.2" rx="3.5" ry="3.1"/><ellipse cx="984.8" cy="678.2" rx="3.5" ry="3.1"/><ellipse cx="992.7" cy="678.2" rx="3.5" ry="3.1"/><ellipse cx="1035.8" cy="678.2" rx="3.5" ry="3.1"/><ellipse cx="1178.1" cy="678.2" rx="3.5" ry="3.1"/><ellipse cx="1263.2" cy="678.2" rx="3.5" ry="3.1"/><ellipse cx="912.2" cy="684" rx="3.5" ry="3.1"/><ellipse cx="917.4" cy="684" rx="3.5" ry="3.1"/><ellipse cx="936.8" cy="684" rx="3.5" ry="3.1"/><ellipse cx="949.6" cy="684" rx="3.5" ry="3.1"/><ellipse cx="986.4" cy="684" rx="3.5" ry="3.1"/><ellipse cx="1004.2" cy="684" rx="3.5" ry="3.1"/><ellipse cx="1016.2" cy="684" rx="3.5" ry="3.1"/><ellipse cx="1025.9" cy="684" rx="3.5" ry="3.1"/><ellipse cx="1045.7" cy="684" rx="3.5" ry="3.1"/><ellipse cx="1203.8" cy="684" rx="3.5" ry="3.1"/><ellipse cx="911.6" cy="689.7" rx="3.5" ry="3.1"/><ellipse cx="935.4" cy="689.7" rx="3.5" ry="3.1"/><ellipse cx="1020.8" cy="689.7" rx="3.5" ry="3.1"/><ellipse cx="1105" cy="689.7" rx="3.5" ry="3.1"/><ellipse cx="1144.5" cy="689.7" rx="3.5" ry="3.1"/><ellipse cx="1184.1" cy="689.7" rx="3.5" ry="3.1"/><ellipse cx="909.5" cy="695.4" rx="3.5" ry="3.1"/><ellipse cx="913" cy="695.4" rx="3.5" ry="3.1"/><ellipse cx="926.7" cy="695.4" rx="3.5" ry="3.1"/><ellipse cx="938.9" cy="695.4" rx="3.5" ry="3.1"/><ellipse cx="956.7" cy="695.4" rx="3.5" ry="3.1"/><ellipse cx="983.4" cy="695.4" rx="3.5" ry="3.1"/><ellipse cx="1006.5" cy="695.4" rx="3.5" ry="3.1"/><ellipse cx="1025.9" cy="695.4" rx="3.5" ry="3.1"/><ellipse cx="1054" cy="695.4" rx="3.5" ry="3.1"/><ellipse cx="913" cy="701.1" rx="3.5" ry="3.1"/><ellipse cx="916.6" cy="701.1" rx="3.5" ry="3.1"/><ellipse cx="924.5" cy="701.1" rx="3.5" ry="3.1"/><ellipse cx="931.6" cy="701.1" rx="3.5" ry="3.1"/><ellipse cx="986.4" cy="701.1" rx="3.5" ry="3.1"/><ellipse cx="1031.7" cy="701.1" rx="3.5" ry="3.1"/><ellipse cx="913.8" cy="706.8" rx="3.5" ry="3.1"/><ellipse cx="935.4" cy="706.8" rx="3.5" ry="3.1"/><ellipse cx="941.7" cy="706.8" rx="3.5" ry="3.1"/><ellipse cx="951.8" cy="706.8" rx="3.5" ry="3.1"/><ellipse cx="956.7" cy="706.8" rx="3.5" ry="3.1"/><ellipse cx="976.3" cy="706.8" rx="3.5" ry="3.1"/><ellipse cx="989.9" cy="706.8" rx="3.5" ry="3.1"/><ellipse cx="1011.5" cy="706.8" rx="3.5" ry="3.1"/><ellipse cx="1025.9" cy="706.8" rx="3.5" ry="3.1"/><ellipse cx="1073.8" cy="706.8" rx="3.5" ry="3.1"/><ellipse cx="927.1" cy="712.6" rx="3.5" ry="3.1"/><ellipse cx="963.2" cy="712.6" rx="3.5" ry="3.1"/><ellipse cx="973.3" cy="712.6" rx="3.5" ry="3.1"/><ellipse cx="986.4" cy="712.6" rx="3.5" ry="3.1"/><ellipse cx="996.1" cy="712.6" rx="3.5" ry="3.1"/><ellipse cx="1000.6" cy="712.6" rx="3.5" ry="3.1"/><ellipse cx="1006.5" cy="712.6" rx="3.5" ry="3.1"/><ellipse cx="1012.9" cy="712.6" rx="3.5" ry="3.1"/><ellipse cx="1019.4" cy="712.6" rx="3.5" ry="3.1"/><ellipse cx="1035.8" cy="712.6" rx="3.5" ry="3.1"/><ellipse cx="1066.1" cy="712.6" rx="3.5" ry="3.1"/><ellipse cx="986.4" cy="718.3" rx="3.5" ry="3.1"/><ellipse cx="1000" cy="718.3" rx="3.5" ry="3.1"/><ellipse cx="1105" cy="718.3" rx="3.5" ry="3.1"/><ellipse cx="917.4" cy="724" rx="3.5" ry="3.1"/><ellipse cx="1014.5" cy="724" rx="3.5" ry="3.1"/><ellipse cx="909.5" cy="729.7" rx="3.5" ry="3.1"/><ellipse cx="950.4" cy="729.7" rx="3.5" ry="3.1"/><ellipse cx="986.4" cy="729.7" rx="3.5" ry="3.1"/><ellipse cx="1014.5" cy="729.7" rx="3.5" ry="3.1"/><ellipse cx="1028.1" cy="729.7" rx="3.5" ry="3.1"/><ellipse cx="1312.6" cy="729.7" rx="3.5" ry="3.1"/><ellipse cx="912.2" cy="735.4" rx="3.5" ry="3.1"/><ellipse cx="938.9" cy="735.4" rx="3.5" ry="3.1"/><ellipse cx="1025.9" cy="735.4" rx="3.5" ry="3.1"/><ellipse cx="1059.7" cy="735.4" rx="3.5" ry="3.1"/><ellipse cx="1098.5" cy="735.4" rx="3.5" ry="3.1"/><ellipse cx="1203.8" cy="735.4" rx="3.5" ry="3.1"/><ellipse cx="920.9" cy="741.1" rx="3.5" ry="3.1"/><ellipse cx="958.7" cy="741.1" rx="3.5" ry="3.1"/><ellipse cx="989.1" cy="741.1" rx="3.5" ry="3.1"/><ellipse cx="1006.5" cy="741.1" rx="3.5" ry="3.1"/><ellipse cx="1016.4" cy="741.1" rx="3.5" ry="3.1"/><ellipse cx="1085.2" cy="741.1" rx="3.5" ry="3.1"/><ellipse cx="1184.1" cy="741.1" rx="3.5" ry="3.1"/><ellipse cx="976.3" cy="746.9" rx="3.5" ry="3.1"/><ellipse cx="1014.5" cy="746.9" rx="3.5" ry="3.1"/><ellipse cx="1223.6" cy="746.9" rx="3.5" ry="3.1"/><ellipse cx="908.7" cy="752.6" rx="3.5" ry="3.1"/><ellipse cx="917.4" cy="752.6" rx="3.5" ry="3.1"/><ellipse cx="967" cy="752.6" rx="3.5" ry="3.1"/><ellipse cx="986.4" cy="752.6" rx="3.5" ry="3.1"/><ellipse cx="1460.9" cy="752.6" rx="3.5" ry="3.1"/><ellipse cx="920.9" cy="758.3" rx="3.5" ry="3.1"/><ellipse cx="956.7" cy="758.3" rx="3.5" ry="3.1"/><ellipse cx="960.5" cy="758.3" rx="3.5" ry="3.1"/><ellipse cx="1164.3" cy="758.3" rx="3.5" ry="3.1"/><ellipse cx="1025.9" cy="764" rx="3.5" ry="3.1"/><ellipse cx="1059.7" cy="764" rx="3.5" ry="3.1"/><ellipse cx="1069.8" cy="764" rx="3.5" ry="3.1"/><ellipse cx="913.8" cy="769.7" rx="3.5" ry="3.1"/><ellipse cx="917.4" cy="769.7" rx="3.5" ry="3.1"/><ellipse cx="925.7" cy="769.7" rx="3.5" ry="3.1"/><ellipse cx="1002.8" cy="769.7" rx="3.5" ry="3.1"/><ellipse cx="1223.6" cy="769.7" rx="3.5" ry="3.1"/><ellipse cx="908.7" cy="775.5" rx="3.5" ry="3.1"/><ellipse cx="994.7" cy="775.5" rx="3.5" ry="3.1"/><ellipse cx="1059.7" cy="775.5" rx="3.5" ry="3.1"/><ellipse cx="1134.7" cy="775.5" rx="3.5" ry="3.1"/><ellipse cx="1164.3" cy="781.2" rx="3.5" ry="3.1"/><ellipse cx="1016.2" cy="786.9" rx="3.5" ry="3.1"/><ellipse cx="1019.4" cy="786.9" rx="3.5" ry="3.1"/><ellipse cx="1051.8" cy="786.9" rx="3.5" ry="3.1"/><ellipse cx="912.2" cy="792.6" rx="3.5" ry="3.1"/><ellipse cx="940.3" cy="792.6" rx="3.5" ry="3.1"/><ellipse cx="912.2" cy="798.3" rx="3.5" ry="3.1"/><ellipse cx="947.2" cy="798.3" rx="3.5" ry="3.1"/><ellipse cx="958.3" cy="798.3" rx="3.5" ry="3.1"/><ellipse cx="1243.4" cy="798.3" rx="3.5" ry="3.1"/><ellipse cx="1381.8" cy="804" rx="3.5" ry="3.1"/><ellipse cx="913.8" cy="809.8" rx="3.5" ry="3.1"/><ellipse cx="1249.9" cy="809.8" rx="3.5" ry="3.1"/><ellipse cx="927.1" cy="815.5" rx="3.5" ry="3.1"/>
</g>
<g fill="#ffffff" fill-opacity="0.5" stroke="#1a2285" stroke-width="1.9" stroke-opacity="0.95">
<ellipse cx="918.8" cy="512.4" rx="3.5" ry="3.1"/><ellipse cx="920.9" cy="575.3" rx="3.5" ry="3.1"/><ellipse cx="908.7" cy="581" rx="3.5" ry="3.1"/><ellipse cx="913" cy="586.8" rx="3.5" ry="3.1"/><ellipse cx="970.2" cy="592.5" rx="3.5" ry="3.1"/><ellipse cx="932" cy="598.2" rx="3.5" ry="3.1"/><ellipse cx="916.6" cy="603.9" rx="3.5" ry="3.1"/><ellipse cx="910.9" cy="609.6" rx="3.5" ry="3.1"/><ellipse cx="1045.7" cy="609.6" rx="3.5" ry="3.1"/><ellipse cx="966.6" cy="615.4" rx="3.5" ry="3.1"/><ellipse cx="941.7" cy="621.1" rx="3.5" ry="3.1"/><ellipse cx="915.8" cy="626.8" rx="3.5" ry="3.1"/><ellipse cx="1006.5" cy="632.5" rx="3.5" ry="3.1"/><ellipse cx="959.7" cy="643.9" rx="3.5" ry="3.1"/><ellipse cx="929" cy="649.7" rx="3.5" ry="3.1"/><ellipse cx="961.9" cy="649.7" rx="3.5" ry="3.1"/><ellipse cx="995.7" cy="661.1" rx="3.5" ry="3.1"/><ellipse cx="1025.9" cy="661.1" rx="3.5" ry="3.1"/><ellipse cx="958.3" cy="684" rx="3.5" ry="3.1"/><ellipse cx="956.7" cy="689.7" rx="3.5" ry="3.1"/><ellipse cx="967" cy="689.7" rx="3.5" ry="3.1"/><ellipse cx="920.9" cy="695.4" rx="3.5" ry="3.1"/><ellipse cx="1243.4" cy="695.4" rx="3.5" ry="3.1"/><ellipse cx="1025.1" cy="701.1" rx="3.5" ry="3.1"/><ellipse cx="1057.6" cy="718.3" rx="3.5" ry="3.1"/><ellipse cx="973.1" cy="724" rx="3.5" ry="3.1"/><ellipse cx="920.9" cy="729.7" rx="3.5" ry="3.1"/><ellipse cx="986.4" cy="735.4" rx="3.5" ry="3.1"/><ellipse cx="967" cy="746.9" rx="3.5" ry="3.1"/><ellipse cx="983.4" cy="746.9" rx="3.5" ry="3.1"/><ellipse cx="1045.7" cy="746.9" rx="3.5" ry="3.1"/><ellipse cx="983.4" cy="752.6" rx="3.5" ry="3.1"/><ellipse cx="1029.5" cy="752.6" rx="3.5" ry="3.1"/><ellipse cx="1065.7" cy="758.3" rx="3.5" ry="3.1"/><ellipse cx="1085.2" cy="758.3" rx="3.5" ry="3.1"/><ellipse cx="948.6" cy="769.7" rx="3.5" ry="3.1"/><ellipse cx="1006.5" cy="769.7" rx="3.5" ry="3.1"/><ellipse cx="1025.9" cy="769.7" rx="3.5" ry="3.1"/><ellipse cx="967" cy="775.5" rx="3.5" ry="3.1"/><ellipse cx="1055.4" cy="781.2" rx="3.5" ry="3.1"/><ellipse cx="938.9" cy="798.3" rx="3.5" ry="3.1"/><ellipse cx="929" cy="804" rx="3.5" ry="3.1"/>
</g>
<rect x="900" y="507.2" width="609.2" height="320.5" fill="none" stroke="#7c7c7c" stroke-width="2"/>
<line x1="901.5" y1="507.2" x2="1507.7" y2="507.2" stroke="#ffffff" stroke-opacity="0.6" stroke-width="2.6"/>
<path d="M907.3 827.7v6M1006.1 827.7v6M1105 827.7v6M1203.8 827.7v6M1302.7 827.7v6M1401.5 827.7v6M1500.4 827.7v6M900 821.2h-6.4M900 764h-6.4M900 706.8h-6.4M900 649.7h-6.4M900 592.5h-6.4M900 535.3h-6.4" stroke="#7c7c7c" stroke-width="1.6" fill="none"/>
<g font-family='"Liberation Serif", "DejaVu Serif", serif' font-weight="bold" font-size="19" fill="#111">
<g text-anchor="middle">
<text x="906.3" y="855.3">0</text>
<text x="1001.1" y="855.3">5</text>
<text x="1105.2" y="855.3">10</text>
<text x="1204.4" y="855.3">15</text>
<text x="1303.5" y="855.3">20</text>
<text x="1403.1" y="855.3">25</text>
<text x="1501.4" y="855.3">30</text>
</g><g text-anchor="end">
<text x="885.9" y="827.5">10</text>
<text x="885.9" y="770">20</text>
<text x="885.9" y="712.9">30</text>
<text x="885.9" y="655.6">40</text>
<text x="885.9" y="598.3">50</text>
<text x="885.9" y="537">60</text>
</g></g>
<g fill="#9a9a9a"><circle cx="888.6" cy="820" r="0.7"/><circle cx="888.6" cy="762.8" r="0.7"/><circle cx="888.6" cy="705.6" r="0.7"/><circle cx="888.6" cy="648.5" r="0.7"/><circle cx="888.6" cy="591.3" r="0.7"/><circle cx="888.6" cy="534.1" r="0.7"/></g>
<text y="890.3" font-family='"Liberation Serif", "DejaVu Serif", serif' font-weight="bold" font-size="19.4" fill="#111"><tspan x="1091.1" textLength="36" lengthAdjust="spacingAndGlyphs">Year</tspan> <tspan x="1135.5" textLength="40.3" lengthAdjust="spacingAndGlyphs">since</tspan> <tspan x="1181.5" textLength="65.6" lengthAdjust="spacingAndGlyphs">problem</tspan> <tspan x="1256.9" textLength="80.6" lengthAdjust="spacingAndGlyphs">resolution</tspan></text>
<text transform="translate(821 809.2) rotate(-90)" font-family='"Liberation Serif", "DejaVu Serif", serif' font-weight="bold" font-size="23" fill="#111"><tspan x="0" textLength="123.9" lengthAdjust="spacingAndGlyphs">Experiential</tspan> <tspan x="127.6" textLength="97.3" lengthAdjust="spacingAndGlyphs">avoidance</tspan> <tspan x="229.2" textLength="38.9" lengthAdjust="spacingAndGlyphs">and</tspan></text>
<text transform="translate(848.6 798.3) rotate(-90)" font-family='"Liberation Serif", "DejaVu Serif", serif' font-weight="bold" font-size="23" fill="#111"><tspan x="0" textLength="132.3" lengthAdjust="spacingAndGlyphs">psychological</tspan> <tspan x="135.5" textLength="111.8" lengthAdjust="spacingAndGlyphs">inflexibility</tspan></text>
<text x="776.8" y="499.6" font-family='"Liberation Sans", "DejaVu Sans", sans-serif' font-weight="bold" font-size="27.8" fill="#000">D</text>
</g>
</svg>
</body>
</html>
